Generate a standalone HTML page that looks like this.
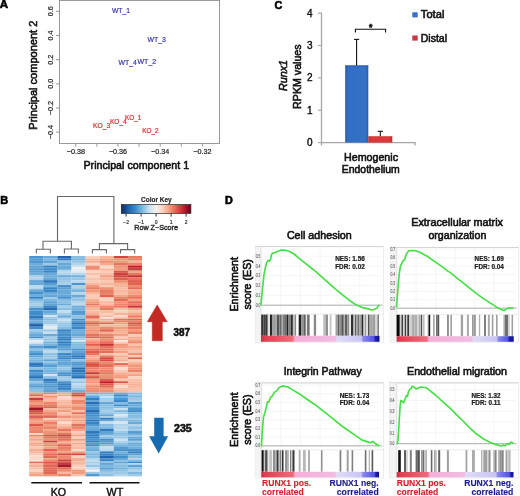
<!DOCTYPE html>
<html><head><meta charset="utf-8"><style>
html,body{margin:0;padding:0;background:#fff;overflow:hidden}
svg{display:block;font-family:"Liberation Sans", sans-serif;will-change:transform}
</style></head><body>
<svg width="520" height="496" viewBox="0 0 520 496">
<rect width="520" height="496" fill="#fff"/>
<text x="-0.3" y="8.4" font-size="11.5" fill="#000" stroke="#000" stroke-width="0.58" font-weight="bold">A</text>
<rect x="59.4" y="0.4" width="160.2" height="143" fill="none" stroke="#8a8a8a" stroke-width="0.9"/>
<line x1="56" y1="11.30" x2="59.4" y2="11.30" stroke="#8a8a8a" stroke-width="0.9"/>
<text x="53.0" y="11.3" font-size="7.2" fill="#222" stroke="#222" stroke-width="0.2" text-anchor="middle" transform="rotate(-90 53.0 11.3)">0.6</text>
<line x1="56" y1="35.48" x2="59.4" y2="35.48" stroke="#8a8a8a" stroke-width="0.9"/>
<text x="53.0" y="35.48" font-size="7.2" fill="#222" stroke="#222" stroke-width="0.2" text-anchor="middle" transform="rotate(-90 53.0 35.48)">0.4</text>
<line x1="56" y1="59.66" x2="59.4" y2="59.66" stroke="#8a8a8a" stroke-width="0.9"/>
<text x="53.0" y="59.66" font-size="7.2" fill="#222" stroke="#222" stroke-width="0.2" text-anchor="middle" transform="rotate(-90 53.0 59.66)">0.2</text>
<line x1="56" y1="83.84" x2="59.4" y2="83.84" stroke="#8a8a8a" stroke-width="0.9"/>
<text x="53.0" y="83.84" font-size="7.2" fill="#222" stroke="#222" stroke-width="0.2" text-anchor="middle" transform="rotate(-90 53.0 83.84)">0.0</text>
<line x1="56" y1="108.02" x2="59.4" y2="108.02" stroke="#8a8a8a" stroke-width="0.9"/>
<text x="53.0" y="108.02" font-size="7.2" fill="#222" stroke="#222" stroke-width="0.2" text-anchor="middle" transform="rotate(-90 53.0 108.02)">&#8722;0.2</text>
<line x1="56" y1="132.20" x2="59.4" y2="132.20" stroke="#8a8a8a" stroke-width="0.9"/>
<text x="53.0" y="132.2" font-size="7.2" fill="#222" stroke="#222" stroke-width="0.2" text-anchor="middle" transform="rotate(-90 53.0 132.2)">&#8722;0.4</text>
<line x1="75.80" y1="143.4" x2="75.80" y2="146.6" stroke="#8a8a8a" stroke-width="0.9"/>
<line x1="96.90" y1="143.4" x2="96.90" y2="146.6" stroke="#8a8a8a" stroke-width="0.9"/>
<line x1="118.00" y1="143.4" x2="118.00" y2="146.6" stroke="#8a8a8a" stroke-width="0.9"/>
<line x1="139.10" y1="143.4" x2="139.10" y2="146.6" stroke="#8a8a8a" stroke-width="0.9"/>
<line x1="160.20" y1="143.4" x2="160.20" y2="146.6" stroke="#8a8a8a" stroke-width="0.9"/>
<line x1="181.30" y1="143.4" x2="181.30" y2="146.6" stroke="#8a8a8a" stroke-width="0.9"/>
<line x1="202.40" y1="143.4" x2="202.40" y2="146.6" stroke="#8a8a8a" stroke-width="0.9"/>
<text x="75.8" y="153.9" font-size="7.2" fill="#222" stroke="#222" stroke-width="0.2" text-anchor="middle">&#8722;0.38</text>
<text x="118.0" y="153.9" font-size="7.2" fill="#222" stroke="#222" stroke-width="0.2" text-anchor="middle">&#8722;0.36</text>
<text x="160.2" y="153.9" font-size="7.2" fill="#222" stroke="#222" stroke-width="0.2" text-anchor="middle">&#8722;0.34</text>
<text x="202.4" y="153.9" font-size="7.2" fill="#222" stroke="#222" stroke-width="0.2" text-anchor="middle">&#8722;0.32</text>
<text x="83.5" y="169.0" font-size="10.85" fill="#111" stroke="#111" stroke-width="0.58" textLength="105.6" lengthAdjust="spacingAndGlyphs">Principal component 1</text>
<text x="36.9" y="129.7" font-size="11.2" fill="#111" stroke="#111" stroke-width="0.58" textLength="109.0" lengthAdjust="spacingAndGlyphs" transform="rotate(-90 36.9 129.7)">Principal component 2</text>
<text x="112" y="13.1" font-size="7.2" fill="#3a3aae" stroke="#3a3aae" stroke-width="0.22" textLength="18" lengthAdjust="spacingAndGlyphs">WT_1</text>
<text x="147.5" y="42.3" font-size="7.2" fill="#3a3aae" stroke="#3a3aae" stroke-width="0.22" textLength="18.4" lengthAdjust="spacingAndGlyphs">WT_3</text>
<text x="118.5" y="65.2" font-size="7.2" fill="#3a3aae" stroke="#3a3aae" stroke-width="0.22" textLength="18.4" lengthAdjust="spacingAndGlyphs">WT_4</text>
<text x="137.5" y="63.5" font-size="7.2" fill="#3a3aae" stroke="#3a3aae" stroke-width="0.22" textLength="18.7" lengthAdjust="spacingAndGlyphs">WT_2</text>
<text x="93" y="127.8" font-size="7.2" fill="#d23434" stroke="#d23434" stroke-width="0.22" textLength="17.4" lengthAdjust="spacingAndGlyphs">KO_3</text>
<text x="109.9" y="123.5" font-size="7.2" fill="#d23434" stroke="#d23434" stroke-width="0.22" textLength="16.9" lengthAdjust="spacingAndGlyphs">KO_4</text>
<text x="125" y="120.4" font-size="7.2" fill="#d23434" stroke="#d23434" stroke-width="0.22" textLength="16.2" lengthAdjust="spacingAndGlyphs">KO_1</text>
<text x="142.2" y="132.7" font-size="7.2" fill="#d23434" stroke="#d23434" stroke-width="0.22" textLength="16.3" lengthAdjust="spacingAndGlyphs">KO_2</text>
<text x="274.4" y="8.6" font-size="10.8" fill="#000" stroke="#000" stroke-width="0.58" font-weight="bold">C</text>
<line x1="321.5" y1="12.6" x2="321.5" y2="142.6" stroke="#a6a6a6" stroke-width="1.3"/>
<line x1="318" y1="13.10" x2="321.5" y2="13.10" stroke="#a6a6a6" stroke-width="1.1"/>
<text x="312.6" y="16.7" font-size="10" fill="#111" stroke="#111" stroke-width="0.4" text-anchor="end">4</text>
<line x1="318" y1="45.48" x2="321.5" y2="45.48" stroke="#a6a6a6" stroke-width="1.1"/>
<text x="312.6" y="49.08" font-size="10" fill="#111" stroke="#111" stroke-width="0.4" text-anchor="end">3</text>
<line x1="318" y1="77.86" x2="321.5" y2="77.86" stroke="#a6a6a6" stroke-width="1.1"/>
<text x="312.6" y="81.46" font-size="10" fill="#111" stroke="#111" stroke-width="0.4" text-anchor="end">2</text>
<line x1="318" y1="110.24" x2="321.5" y2="110.24" stroke="#a6a6a6" stroke-width="1.1"/>
<text x="312.6" y="113.84" font-size="10" fill="#111" stroke="#111" stroke-width="0.4" text-anchor="end">1</text>
<line x1="318" y1="142.62" x2="321.5" y2="142.62" stroke="#a6a6a6" stroke-width="1.1"/>
<text x="312.6" y="146.22" font-size="10" fill="#111" stroke="#111" stroke-width="0.4" text-anchor="end">0</text>
<polyline points="321.5,145.6 321.5,142.6 415,142.6 415,145.6" fill="none" stroke="#a6a6a6" stroke-width="1.3"/>
<defs><linearGradient id="bb" x1="0" x2="1" y1="0" y2="0"><stop offset="0" stop-color="#2a5aa4"/><stop offset="0.12" stop-color="#326fc4"/><stop offset="0.88" stop-color="#3472c6"/><stop offset="1" stop-color="#2a5aa4"/></linearGradient><linearGradient id="rb" x1="0" x2="1" y1="0" y2="0"><stop offset="0" stop-color="#c02c2e"/><stop offset="0.12" stop-color="#da3a3a"/><stop offset="0.88" stop-color="#da3a3a"/><stop offset="1" stop-color="#c02c2e"/></linearGradient></defs>
<rect x="345.2" y="65.5" width="23.1" height="77.1" fill="url(#bb)"/>
<line x1="345.2" y1="65.9" x2="368.3" y2="65.9" stroke="#2a58a0" stroke-width="0.8"/>
<rect x="368.3" y="136.2" width="24" height="6.4" fill="url(#rb)"/>
<polyline points="356.6,65.5 356.6,39.4" stroke="#111" stroke-width="1.1"/>
<line x1="354" y1="39.4" x2="359.2" y2="39.4" stroke="#111" stroke-width="1.1"/>
<line x1="380.3" y1="136.2" x2="380.3" y2="131.3" stroke="#111" stroke-width="1.1"/>
<line x1="377.7" y1="131.3" x2="382.9" y2="131.3" stroke="#111" stroke-width="1.1"/>
<polyline points="355.4,32.6 355.4,29.3 385.6,29.3 385.6,32.6" fill="none" stroke="#111" stroke-width="1.1"/>
<text x="370.6" y="29.6" font-size="8.5" fill="#111" stroke="#111" stroke-width="0.58" font-weight="bold" text-anchor="middle">*</text>
<rect x="412.3" y="12.3" width="5.4" height="5.1" fill="#3c6fc3"/>
<rect x="412.3" y="35.5" width="5.4" height="5.1" fill="#c8383f"/>
<text x="420.8" y="18.2" font-size="10.6" fill="#111" stroke="#111" stroke-width="0.58" textLength="23.6" lengthAdjust="spacingAndGlyphs">Total</text>
<text x="420.8" y="41.5" font-size="10.6" fill="#111" stroke="#111" stroke-width="0.58" textLength="26.2" lengthAdjust="spacingAndGlyphs">Distal</text>
<text x="371" y="160.8" font-size="10.5" fill="#111" stroke="#111" stroke-width="0.58" text-anchor="middle" textLength="54" lengthAdjust="spacingAndGlyphs">Hemogenic</text>
<text x="370.8" y="173" font-size="10.5" fill="#111" stroke="#111" stroke-width="0.58" text-anchor="middle" textLength="58" lengthAdjust="spacingAndGlyphs">Endothelium</text>
<text x="286.7" y="91" font-size="10.6" fill="#111" stroke="#111" stroke-width="0.58" font-style="italic" textLength="31" lengthAdjust="spacingAndGlyphs" transform="rotate(-90 286.7 91)">Runx1</text>
<text x="301.0" y="108.9" font-size="10.6" fill="#111" stroke="#111" stroke-width="0.58" textLength="64.5" lengthAdjust="spacingAndGlyphs" transform="rotate(-90 301.0 108.9)">RPKM values</text>
<text x="0.3" y="203.5" font-size="11" fill="#000" stroke="#000" stroke-width="0.58" font-weight="bold">B</text>
<polyline points="57.5,241.2 57.5,196.5 113.9,196.5 113.9,243.6" stroke="#686868" stroke-width="1.1" fill="none"/>
<polyline points="43,249.3 43,241.2 71.4,241.2 71.4,249.0" stroke="#686868" stroke-width="1.1" fill="none"/>
<polyline points="36.3,253.5 36.3,249.3 50.4,249.3 50.4,253.5" stroke="#686868" stroke-width="1.1" fill="none"/>
<polyline points="64.4,253.5 64.4,249.0 78.3,249.0 78.3,253.5" stroke="#686868" stroke-width="1.1" fill="none"/>
<polyline points="99.4,249.6 99.4,243.6 127.6,243.6 127.6,249.6" stroke="#686868" stroke-width="1.1" fill="none"/>
<polyline points="92.4,253.5 92.4,249.6 106.4,249.6 106.4,253.5" stroke="#686868" stroke-width="1.1" fill="none"/>
<polyline points="120.6,253.5 120.6,249.6 134.7,249.6 134.7,253.5" stroke="#686868" stroke-width="1.1" fill="none"/>
<defs><linearGradient id="ck" x1="0" x2="1" y1="0" y2="0"><stop offset="0.00" stop-color="#0a2a62"/><stop offset="0.10" stop-color="#1f5fa8"/><stop offset="0.20" stop-color="#3a88c8"/><stop offset="0.30" stop-color="#7cb8e0"/><stop offset="0.40" stop-color="#c8e0f0"/><stop offset="0.50" stop-color="#f5f2f0"/><stop offset="0.60" stop-color="#fbd0bc"/><stop offset="0.70" stop-color="#f29878"/><stop offset="0.80" stop-color="#dc5848"/><stop offset="0.90" stop-color="#b8202c"/><stop offset="1.00" stop-color="#62001c"/></linearGradient></defs>
<rect x="121.3" y="204.5" width="69.6" height="9" fill="url(#ck)" stroke="#2a2a2a" stroke-width="0.7"/>
<line x1="126.1" y1="213.4" x2="126.1" y2="216.6" stroke="#333" stroke-width="1"/>
<text x="126.1" y="224.0" font-size="5.0" fill="#222" stroke="#222" stroke-width="0.15" text-anchor="middle">&#8722;2</text>
<line x1="141.1" y1="213.4" x2="141.1" y2="216.6" stroke="#333" stroke-width="1"/>
<text x="141.1" y="224.0" font-size="5.0" fill="#222" stroke="#222" stroke-width="0.15" text-anchor="middle">&#8722;1</text>
<line x1="156.1" y1="213.4" x2="156.1" y2="216.6" stroke="#333" stroke-width="1"/>
<text x="156.1" y="224.0" font-size="5.0" fill="#222" stroke="#222" stroke-width="0.15" text-anchor="middle">0</text>
<line x1="171.1" y1="213.4" x2="171.1" y2="216.6" stroke="#333" stroke-width="1"/>
<text x="171.1" y="224.0" font-size="5.0" fill="#222" stroke="#222" stroke-width="0.15" text-anchor="middle">1</text>
<line x1="186.1" y1="213.4" x2="186.1" y2="216.6" stroke="#333" stroke-width="1"/>
<text x="186.1" y="224.0" font-size="5.0" fill="#222" stroke="#222" stroke-width="0.15" text-anchor="middle">2</text>
<text x="156.3" y="201.9" font-size="6.6" fill="#222" stroke="#222" stroke-width="0.15" font-weight="bold" text-anchor="middle" textLength="30.6" lengthAdjust="spacingAndGlyphs">Color Key</text>
<text x="156.1" y="230.2" font-size="7.2" fill="#222" stroke="#222" stroke-width="0.35" text-anchor="middle" textLength="43.8" lengthAdjust="spacingAndGlyphs">Row Z&#8722;Score</text>
<defs><filter id="hb" x="-0.05" y="-0.05" width="1.1" height="1.1"><feGaussianBlur stdDeviation="0.35"/></filter></defs>
<g filter="url(#hb)">
<rect x="29.20" y="256.00" width="14.15" height="2.40" fill="#4a94ce"/>
<rect x="43.30" y="256.00" width="14.15" height="2.40" fill="#66a8d8"/>
<rect x="57.40" y="256.00" width="14.15" height="2.40" fill="#2365ad"/>
<rect x="71.50" y="256.00" width="14.15" height="2.40" fill="#88bee2"/>
<rect x="85.60" y="256.00" width="14.15" height="2.40" fill="#fbd0bc"/>
<rect x="99.70" y="256.00" width="14.15" height="2.40" fill="#f7b59b"/>
<rect x="113.80" y="256.00" width="14.15" height="2.40" fill="#d0453f"/>
<rect x="127.90" y="256.00" width="14.15" height="2.40" fill="#e87a61"/>
<rect x="29.20" y="258.35" width="14.15" height="2.21" fill="#5098d0"/>
<rect x="43.30" y="258.35" width="14.15" height="2.21" fill="#79b6df"/>
<rect x="57.40" y="258.35" width="14.15" height="2.21" fill="#3078bc"/>
<rect x="71.50" y="258.35" width="14.15" height="2.21" fill="#77b5de"/>
<rect x="85.60" y="258.35" width="14.15" height="2.21" fill="#f7b79e"/>
<rect x="99.70" y="258.35" width="14.15" height="2.21" fill="#f4a486"/>
<rect x="113.80" y="258.35" width="14.15" height="2.21" fill="#f09475"/>
<rect x="127.90" y="258.35" width="14.15" height="2.21" fill="#e77961"/>
<rect x="29.20" y="260.51" width="14.15" height="2.40" fill="#4691cc"/>
<rect x="43.30" y="260.51" width="14.15" height="2.40" fill="#5ba0d4"/>
<rect x="57.40" y="260.51" width="14.15" height="2.40" fill="#90c2e4"/>
<rect x="71.50" y="260.51" width="14.15" height="2.40" fill="#95c5e5"/>
<rect x="85.60" y="260.51" width="14.15" height="2.40" fill="#f6af94"/>
<rect x="99.70" y="260.51" width="14.15" height="2.40" fill="#ef8f72"/>
<rect x="113.80" y="260.51" width="14.15" height="2.40" fill="#f29a7a"/>
<rect x="127.90" y="260.51" width="14.15" height="2.40" fill="#f6b399"/>
<rect x="29.20" y="262.86" width="14.15" height="2.75" fill="#6dadda"/>
<rect x="43.30" y="262.86" width="14.15" height="2.75" fill="#9cc9e7"/>
<rect x="57.40" y="262.86" width="14.15" height="2.75" fill="#65a7d8"/>
<rect x="71.50" y="262.86" width="14.15" height="2.75" fill="#b1d4eb"/>
<rect x="85.60" y="262.86" width="14.15" height="2.75" fill="#fbd0bc"/>
<rect x="99.70" y="262.86" width="14.15" height="2.75" fill="#f5aa8e"/>
<rect x="113.80" y="262.86" width="14.15" height="2.75" fill="#e6745d"/>
<rect x="127.90" y="262.86" width="14.15" height="2.75" fill="#eb8369"/>
<rect x="29.20" y="265.56" width="14.15" height="1.65" fill="#5ca1d4"/>
<rect x="43.30" y="265.56" width="14.15" height="1.65" fill="#3581c2"/>
<rect x="57.40" y="265.56" width="14.15" height="1.65" fill="#6babda"/>
<rect x="71.50" y="265.56" width="14.15" height="1.65" fill="#c6dff0"/>
<rect x="85.60" y="265.56" width="14.15" height="1.65" fill="#f09274"/>
<rect x="99.70" y="265.56" width="14.15" height="1.65" fill="#fad4c2"/>
<rect x="113.80" y="265.56" width="14.15" height="1.65" fill="#f09273"/>
<rect x="127.90" y="265.56" width="14.15" height="1.65" fill="#b8212c"/>
<rect x="29.20" y="267.16" width="14.15" height="1.76" fill="#5ca0d4"/>
<rect x="43.30" y="267.16" width="14.15" height="1.76" fill="#4590cc"/>
<rect x="57.40" y="267.16" width="14.15" height="1.76" fill="#5a9fd4"/>
<rect x="71.50" y="267.16" width="14.15" height="1.76" fill="#eff0f0"/>
<rect x="85.60" y="267.16" width="14.15" height="1.76" fill="#e97d64"/>
<rect x="99.70" y="267.16" width="14.15" height="1.76" fill="#fad4c2"/>
<rect x="113.80" y="267.16" width="14.15" height="1.76" fill="#f09273"/>
<rect x="127.90" y="267.16" width="14.15" height="1.76" fill="#c63537"/>
<rect x="29.20" y="268.87" width="14.15" height="1.83" fill="#569cd2"/>
<rect x="43.30" y="268.87" width="14.15" height="1.83" fill="#3f8bca"/>
<rect x="57.40" y="268.87" width="14.15" height="1.83" fill="#84bce2"/>
<rect x="71.50" y="268.87" width="14.15" height="1.83" fill="#e3ebf0"/>
<rect x="85.60" y="268.87" width="14.15" height="1.83" fill="#f4a68a"/>
<rect x="99.70" y="268.87" width="14.15" height="1.83" fill="#f6b196"/>
<rect x="113.80" y="268.87" width="14.15" height="1.83" fill="#f3a183"/>
<rect x="127.90" y="268.87" width="14.15" height="1.83" fill="#cd413d"/>
<rect x="29.20" y="270.65" width="14.15" height="2.18" fill="#5ca1d4"/>
<rect x="43.30" y="270.65" width="14.15" height="2.18" fill="#3b88c8"/>
<rect x="57.40" y="270.65" width="14.15" height="2.18" fill="#b8d8ed"/>
<rect x="71.50" y="270.65" width="14.15" height="2.18" fill="#dde8f0"/>
<rect x="85.60" y="270.65" width="14.15" height="2.18" fill="#fad6c5"/>
<rect x="99.70" y="270.65" width="14.15" height="2.18" fill="#facbb6"/>
<rect x="113.80" y="270.65" width="14.15" height="2.18" fill="#dc5748"/>
<rect x="127.90" y="270.65" width="14.15" height="2.18" fill="#f4a588"/>
<rect x="29.20" y="272.78" width="14.15" height="2.44" fill="#6bacda"/>
<rect x="43.30" y="272.78" width="14.15" height="2.44" fill="#68a9d9"/>
<rect x="57.40" y="272.78" width="14.15" height="2.44" fill="#b1d4eb"/>
<rect x="71.50" y="272.78" width="14.15" height="2.44" fill="#b7d7ec"/>
<rect x="85.60" y="272.78" width="14.15" height="2.44" fill="#f8c0a9"/>
<rect x="99.70" y="272.78" width="14.15" height="2.44" fill="#f8bda5"/>
<rect x="113.80" y="272.78" width="14.15" height="2.44" fill="#cd403c"/>
<rect x="127.90" y="272.78" width="14.15" height="2.44" fill="#e77860"/>
<rect x="29.20" y="275.18" width="14.15" height="2.31" fill="#a5cde9"/>
<rect x="43.30" y="275.18" width="14.15" height="2.31" fill="#6aabda"/>
<rect x="57.40" y="275.18" width="14.15" height="2.31" fill="#68a9d9"/>
<rect x="71.50" y="275.18" width="14.15" height="2.31" fill="#72b0dc"/>
<rect x="85.60" y="275.18" width="14.15" height="2.31" fill="#fbd1be"/>
<rect x="99.70" y="275.18" width="14.15" height="2.31" fill="#f3a082"/>
<rect x="113.80" y="275.18" width="14.15" height="2.31" fill="#d34a41"/>
<rect x="127.90" y="275.18" width="14.15" height="2.31" fill="#c43336"/>
<rect x="29.20" y="277.44" width="14.15" height="2.70" fill="#b0d3eb"/>
<rect x="43.30" y="277.44" width="14.15" height="2.70" fill="#64a6d7"/>
<rect x="57.40" y="277.44" width="14.15" height="2.70" fill="#92c3e5"/>
<rect x="71.50" y="277.44" width="14.15" height="2.70" fill="#98c7e6"/>
<rect x="85.60" y="277.44" width="14.15" height="2.70" fill="#f9c2ac"/>
<rect x="99.70" y="277.44" width="14.15" height="2.70" fill="#f7b79d"/>
<rect x="113.80" y="277.44" width="14.15" height="2.70" fill="#df604e"/>
<rect x="127.90" y="277.44" width="14.15" height="2.70" fill="#e6755e"/>
<rect x="29.20" y="280.09" width="14.15" height="2.81" fill="#65a7d8"/>
<rect x="43.30" y="280.09" width="14.15" height="2.81" fill="#317bbe"/>
<rect x="57.40" y="280.09" width="14.15" height="2.81" fill="#9ecae7"/>
<rect x="71.50" y="280.09" width="14.15" height="2.81" fill="#bddaee"/>
<rect x="85.60" y="280.09" width="14.15" height="2.81" fill="#faccb7"/>
<rect x="99.70" y="280.09" width="14.15" height="2.81" fill="#fac7b1"/>
<rect x="113.80" y="280.09" width="14.15" height="2.81" fill="#ef8e70"/>
<rect x="127.90" y="280.09" width="14.15" height="2.81" fill="#dd5c4b"/>
<rect x="29.20" y="282.85" width="14.15" height="2.27" fill="#68a9d9"/>
<rect x="43.30" y="282.85" width="14.15" height="2.27" fill="#579dd2"/>
<rect x="57.40" y="282.85" width="14.15" height="2.27" fill="#abd1ea"/>
<rect x="71.50" y="282.85" width="14.15" height="2.27" fill="#4e96cf"/>
<rect x="85.60" y="282.85" width="14.15" height="2.27" fill="#f7b89f"/>
<rect x="99.70" y="282.85" width="14.15" height="2.27" fill="#f7b59c"/>
<rect x="113.80" y="282.85" width="14.15" height="2.27" fill="#f6b196"/>
<rect x="127.90" y="282.85" width="14.15" height="2.27" fill="#e06350"/>
<rect x="29.20" y="285.07" width="14.15" height="2.15" fill="#bbd9ed"/>
<rect x="43.30" y="285.07" width="14.15" height="2.15" fill="#74b2dd"/>
<rect x="57.40" y="285.07" width="14.15" height="2.15" fill="#448fcb"/>
<rect x="71.50" y="285.07" width="14.15" height="2.15" fill="#add2ea"/>
<rect x="85.60" y="285.07" width="14.15" height="2.15" fill="#f29878"/>
<rect x="99.70" y="285.07" width="14.15" height="2.15" fill="#fac9b4"/>
<rect x="113.80" y="285.07" width="14.15" height="2.15" fill="#f6b398"/>
<rect x="127.90" y="285.07" width="14.15" height="2.15" fill="#ed896d"/>
<rect x="29.20" y="287.18" width="14.15" height="2.09" fill="#b6d7ec"/>
<rect x="43.30" y="287.18" width="14.15" height="2.09" fill="#3987c7"/>
<rect x="57.40" y="287.18" width="14.15" height="2.09" fill="#589ed3"/>
<rect x="71.50" y="287.18" width="14.15" height="2.09" fill="#a4cde8"/>
<rect x="85.60" y="287.18" width="14.15" height="2.09" fill="#e97d63"/>
<rect x="99.70" y="287.18" width="14.15" height="2.09" fill="#ef9072"/>
<rect x="113.80" y="287.18" width="14.15" height="2.09" fill="#f8bda5"/>
<rect x="127.90" y="287.18" width="14.15" height="2.09" fill="#e46e59"/>
<rect x="29.20" y="289.21" width="14.15" height="2.83" fill="#6cacda"/>
<rect x="43.30" y="289.21" width="14.15" height="2.83" fill="#3987c7"/>
<rect x="57.40" y="289.21" width="14.15" height="2.83" fill="#69aad9"/>
<rect x="71.50" y="289.21" width="14.15" height="2.83" fill="#76b4de"/>
<rect x="85.60" y="289.21" width="14.15" height="2.83" fill="#f2997a"/>
<rect x="99.70" y="289.21" width="14.15" height="2.83" fill="#e87b63"/>
<rect x="113.80" y="289.21" width="14.15" height="2.83" fill="#f7b89e"/>
<rect x="127.90" y="289.21" width="14.15" height="2.83" fill="#f5aa8d"/>
<rect x="29.20" y="291.99" width="14.15" height="2.76" fill="#4691cc"/>
<rect x="43.30" y="291.99" width="14.15" height="2.76" fill="#68a9d9"/>
<rect x="57.40" y="291.99" width="14.15" height="2.76" fill="#69aad9"/>
<rect x="71.50" y="291.99" width="14.15" height="2.76" fill="#bbd9ed"/>
<rect x="85.60" y="291.99" width="14.15" height="2.76" fill="#f7b69c"/>
<rect x="99.70" y="291.99" width="14.15" height="2.76" fill="#ea8066"/>
<rect x="113.80" y="291.99" width="14.15" height="2.76" fill="#f8bfa7"/>
<rect x="127.90" y="291.99" width="14.15" height="2.76" fill="#f4a386"/>
<rect x="29.20" y="294.70" width="14.15" height="2.41" fill="#6eaedb"/>
<rect x="43.30" y="294.70" width="14.15" height="2.41" fill="#62a5d7"/>
<rect x="57.40" y="294.70" width="14.15" height="2.41" fill="#65a7d8"/>
<rect x="71.50" y="294.70" width="14.15" height="2.41" fill="#69aad9"/>
<rect x="85.60" y="294.70" width="14.15" height="2.41" fill="#faccb7"/>
<rect x="99.70" y="294.70" width="14.15" height="2.41" fill="#df6250"/>
<rect x="113.80" y="294.70" width="14.15" height="2.41" fill="#f4a689"/>
<rect x="127.90" y="294.70" width="14.15" height="2.41" fill="#ed8b6e"/>
<rect x="29.20" y="297.05" width="14.15" height="1.78" fill="#337dc0"/>
<rect x="43.30" y="297.05" width="14.15" height="1.78" fill="#9fcae7"/>
<rect x="57.40" y="297.05" width="14.15" height="1.78" fill="#418dca"/>
<rect x="71.50" y="297.05" width="14.15" height="1.78" fill="#91c3e4"/>
<rect x="85.60" y="297.05" width="14.15" height="1.78" fill="#fac7b1"/>
<rect x="99.70" y="297.05" width="14.15" height="1.78" fill="#f9c3ac"/>
<rect x="113.80" y="297.05" width="14.15" height="1.78" fill="#e97e64"/>
<rect x="127.90" y="297.05" width="14.15" height="1.78" fill="#e36c57"/>
<rect x="29.20" y="298.79" width="14.15" height="2.41" fill="#7db9e0"/>
<rect x="43.30" y="298.79" width="14.15" height="2.41" fill="#7cb8e0"/>
<rect x="57.40" y="298.79" width="14.15" height="2.41" fill="#85bde2"/>
<rect x="71.50" y="298.79" width="14.15" height="2.41" fill="#93c4e5"/>
<rect x="85.60" y="298.79" width="14.15" height="2.41" fill="#f6b297"/>
<rect x="99.70" y="298.79" width="14.15" height="2.41" fill="#fad4c2"/>
<rect x="113.80" y="298.79" width="14.15" height="2.41" fill="#e36c57"/>
<rect x="127.90" y="298.79" width="14.15" height="2.41" fill="#f4a284"/>
<rect x="29.20" y="301.15" width="14.15" height="2.61" fill="#97c6e6"/>
<rect x="43.30" y="301.15" width="14.15" height="2.61" fill="#60a4d6"/>
<rect x="57.40" y="301.15" width="14.15" height="2.61" fill="#86bde2"/>
<rect x="71.50" y="301.15" width="14.15" height="2.61" fill="#afd3eb"/>
<rect x="85.60" y="301.15" width="14.15" height="2.61" fill="#f39d7e"/>
<rect x="99.70" y="301.15" width="14.15" height="2.61" fill="#f8baa2"/>
<rect x="113.80" y="301.15" width="14.15" height="2.61" fill="#f09375"/>
<rect x="127.90" y="301.15" width="14.15" height="2.61" fill="#e4715a"/>
<rect x="29.20" y="303.71" width="14.15" height="1.88" fill="#a6cee9"/>
<rect x="43.30" y="303.71" width="14.15" height="1.88" fill="#5da1d5"/>
<rect x="57.40" y="303.71" width="14.15" height="1.88" fill="#69aad9"/>
<rect x="71.50" y="303.71" width="14.15" height="1.88" fill="#bad9ed"/>
<rect x="85.60" y="303.71" width="14.15" height="1.88" fill="#e7775f"/>
<rect x="99.70" y="303.71" width="14.15" height="1.88" fill="#f7baa1"/>
<rect x="113.80" y="303.71" width="14.15" height="1.88" fill="#eb8469"/>
<rect x="127.90" y="303.71" width="14.15" height="1.88" fill="#e97d63"/>
<rect x="29.20" y="305.54" width="14.15" height="2.30" fill="#8dc1e4"/>
<rect x="43.30" y="305.54" width="14.15" height="2.30" fill="#3783c4"/>
<rect x="57.40" y="305.54" width="14.15" height="2.30" fill="#a2cce8"/>
<rect x="71.50" y="305.54" width="14.15" height="2.30" fill="#6eaddb"/>
<rect x="85.60" y="305.54" width="14.15" height="2.30" fill="#f3a081"/>
<rect x="99.70" y="305.54" width="14.15" height="2.30" fill="#ec856a"/>
<rect x="113.80" y="305.54" width="14.15" height="2.30" fill="#e87a61"/>
<rect x="127.90" y="305.54" width="14.15" height="2.30" fill="#c73737"/>
<rect x="29.20" y="307.78" width="14.15" height="2.67" fill="#4a94ce"/>
<rect x="43.30" y="307.78" width="14.15" height="2.67" fill="#276cb2"/>
<rect x="57.40" y="307.78" width="14.15" height="2.67" fill="#89bfe3"/>
<rect x="71.50" y="307.78" width="14.15" height="2.67" fill="#75b3dd"/>
<rect x="85.60" y="307.78" width="14.15" height="2.67" fill="#f7b79d"/>
<rect x="99.70" y="307.78" width="14.15" height="2.67" fill="#e87b62"/>
<rect x="113.80" y="307.78" width="14.15" height="2.67" fill="#f8c0a9"/>
<rect x="127.90" y="307.78" width="14.15" height="2.67" fill="#f5a88c"/>
<rect x="29.20" y="310.41" width="14.15" height="2.61" fill="#428ecb"/>
<rect x="43.30" y="310.41" width="14.15" height="2.61" fill="#66a8d8"/>
<rect x="57.40" y="310.41" width="14.15" height="2.61" fill="#c4deef"/>
<rect x="71.50" y="310.41" width="14.15" height="2.61" fill="#539ad1"/>
<rect x="85.60" y="310.41" width="14.15" height="2.61" fill="#f8bda5"/>
<rect x="99.70" y="310.41" width="14.15" height="2.61" fill="#f8bba2"/>
<rect x="113.80" y="310.41" width="14.15" height="2.61" fill="#fbd0bc"/>
<rect x="127.90" y="310.41" width="14.15" height="2.61" fill="#f8c0a9"/>
<rect x="29.20" y="312.96" width="14.15" height="2.44" fill="#3f8cca"/>
<rect x="43.30" y="312.96" width="14.15" height="2.44" fill="#7bb7e0"/>
<rect x="57.40" y="312.96" width="14.15" height="2.44" fill="#9fcae7"/>
<rect x="71.50" y="312.96" width="14.15" height="2.44" fill="#5a9fd3"/>
<rect x="85.60" y="312.96" width="14.15" height="2.44" fill="#f6af94"/>
<rect x="99.70" y="312.96" width="14.15" height="2.44" fill="#fbceb9"/>
<rect x="113.80" y="312.96" width="14.15" height="2.44" fill="#f6b196"/>
<rect x="127.90" y="312.96" width="14.15" height="2.44" fill="#f5a98d"/>
<rect x="29.20" y="315.36" width="14.15" height="1.68" fill="#337dbf"/>
<rect x="43.30" y="315.36" width="14.15" height="1.68" fill="#d7e6f0"/>
<rect x="57.40" y="315.36" width="14.15" height="1.68" fill="#69aad9"/>
<rect x="71.50" y="315.36" width="14.15" height="1.68" fill="#8cc0e3"/>
<rect x="85.60" y="315.36" width="14.15" height="1.68" fill="#e36e58"/>
<rect x="99.70" y="315.36" width="14.15" height="1.68" fill="#f7b79d"/>
<rect x="113.80" y="315.36" width="14.15" height="1.68" fill="#fad8c8"/>
<rect x="127.90" y="315.36" width="14.15" height="1.68" fill="#e77961"/>
<rect x="29.20" y="316.99" width="14.15" height="1.77" fill="#2d75b9"/>
<rect x="43.30" y="316.99" width="14.15" height="1.77" fill="#9bc8e7"/>
<rect x="57.40" y="316.99" width="14.15" height="1.77" fill="#8ec1e4"/>
<rect x="71.50" y="316.99" width="14.15" height="1.77" fill="#95c5e5"/>
<rect x="85.60" y="316.99" width="14.15" height="1.77" fill="#e36c57"/>
<rect x="99.70" y="316.99" width="14.15" height="1.77" fill="#f8e4da"/>
<rect x="113.80" y="316.99" width="14.15" height="1.77" fill="#fac9b3"/>
<rect x="127.90" y="316.99" width="14.15" height="1.77" fill="#f4a587"/>
<rect x="29.20" y="318.71" width="14.15" height="1.95" fill="#599ed3"/>
<rect x="43.30" y="318.71" width="14.15" height="1.95" fill="#85bde2"/>
<rect x="57.40" y="318.71" width="14.15" height="1.95" fill="#c8e0f0"/>
<rect x="71.50" y="318.71" width="14.15" height="1.95" fill="#428ecb"/>
<rect x="85.60" y="318.71" width="14.15" height="1.95" fill="#f6b49a"/>
<rect x="99.70" y="318.71" width="14.15" height="1.95" fill="#f5ae92"/>
<rect x="113.80" y="318.71" width="14.15" height="1.95" fill="#e5725b"/>
<rect x="127.90" y="318.71" width="14.15" height="1.95" fill="#e16653"/>
<rect x="29.20" y="320.61" width="14.15" height="1.81" fill="#6cadda"/>
<rect x="43.30" y="320.61" width="14.15" height="1.81" fill="#99c7e6"/>
<rect x="57.40" y="320.61" width="14.15" height="1.81" fill="#b5d6ec"/>
<rect x="71.50" y="320.61" width="14.15" height="1.81" fill="#5299d1"/>
<rect x="85.60" y="320.61" width="14.15" height="1.81" fill="#ee8e70"/>
<rect x="99.70" y="320.61" width="14.15" height="1.81" fill="#f6b095"/>
<rect x="113.80" y="320.61" width="14.15" height="1.81" fill="#eb856a"/>
<rect x="127.90" y="320.61" width="14.15" height="1.81" fill="#ea8066"/>
<rect x="29.20" y="322.36" width="14.15" height="1.87" fill="#4791cd"/>
<rect x="43.30" y="322.36" width="14.15" height="1.87" fill="#93c4e5"/>
<rect x="57.40" y="322.36" width="14.15" height="1.87" fill="#98c7e6"/>
<rect x="71.50" y="322.36" width="14.15" height="1.87" fill="#2c73b7"/>
<rect x="85.60" y="322.36" width="14.15" height="1.87" fill="#df604e"/>
<rect x="99.70" y="322.36" width="14.15" height="1.87" fill="#e26854"/>
<rect x="113.80" y="322.36" width="14.15" height="1.87" fill="#f3a183"/>
<rect x="127.90" y="322.36" width="14.15" height="1.87" fill="#da5446"/>
<rect x="29.20" y="324.19" width="14.15" height="2.46" fill="#1c589f"/>
<rect x="43.30" y="324.19" width="14.15" height="2.46" fill="#cae1f0"/>
<rect x="57.40" y="324.19" width="14.15" height="2.46" fill="#96c6e5"/>
<rect x="71.50" y="324.19" width="14.15" height="2.46" fill="#438fcb"/>
<rect x="85.60" y="324.19" width="14.15" height="2.46" fill="#ee8b6f"/>
<rect x="99.70" y="324.19" width="14.15" height="2.46" fill="#f8bda5"/>
<rect x="113.80" y="324.19" width="14.15" height="2.46" fill="#f8bba2"/>
<rect x="127.90" y="324.19" width="14.15" height="2.46" fill="#e4705a"/>
<rect x="29.20" y="326.60" width="14.15" height="2.73" fill="#418dca"/>
<rect x="43.30" y="326.60" width="14.15" height="2.73" fill="#e5ecf0"/>
<rect x="57.40" y="326.60" width="14.15" height="2.73" fill="#84bce2"/>
<rect x="71.50" y="326.60" width="14.15" height="2.73" fill="#3885c5"/>
<rect x="85.60" y="326.60" width="14.15" height="2.73" fill="#f3a182"/>
<rect x="99.70" y="326.60" width="14.15" height="2.73" fill="#ee8b6e"/>
<rect x="113.80" y="326.60" width="14.15" height="2.73" fill="#f39d7e"/>
<rect x="127.90" y="326.60" width="14.15" height="2.73" fill="#e77860"/>
<rect x="29.20" y="329.27" width="14.15" height="2.58" fill="#9cc9e7"/>
<rect x="43.30" y="329.27" width="14.15" height="2.58" fill="#a0cbe8"/>
<rect x="57.40" y="329.27" width="14.15" height="2.58" fill="#3a87c7"/>
<rect x="71.50" y="329.27" width="14.15" height="2.58" fill="#68a9d9"/>
<rect x="85.60" y="329.27" width="14.15" height="2.58" fill="#f09374"/>
<rect x="99.70" y="329.27" width="14.15" height="2.58" fill="#e16653"/>
<rect x="113.80" y="329.27" width="14.15" height="2.58" fill="#f5a88b"/>
<rect x="127.90" y="329.27" width="14.15" height="2.58" fill="#f19676"/>
<rect x="29.20" y="331.81" width="14.15" height="2.15" fill="#81bbe1"/>
<rect x="43.30" y="331.81" width="14.15" height="2.15" fill="#cee2f0"/>
<rect x="57.40" y="331.81" width="14.15" height="2.15" fill="#5198d0"/>
<rect x="71.50" y="331.81" width="14.15" height="2.15" fill="#70afdc"/>
<rect x="85.60" y="331.81" width="14.15" height="2.15" fill="#f39e7f"/>
<rect x="99.70" y="331.81" width="14.15" height="2.15" fill="#f6b298"/>
<rect x="113.80" y="331.81" width="14.15" height="2.15" fill="#f7b89f"/>
<rect x="127.90" y="331.81" width="14.15" height="2.15" fill="#e87a61"/>
<rect x="29.20" y="333.91" width="14.15" height="2.75" fill="#67a9d8"/>
<rect x="43.30" y="333.91" width="14.15" height="2.75" fill="#67a9d8"/>
<rect x="57.40" y="333.91" width="14.15" height="2.75" fill="#448fcc"/>
<rect x="71.50" y="333.91" width="14.15" height="2.75" fill="#63a6d7"/>
<rect x="85.60" y="333.91" width="14.15" height="2.75" fill="#e5725c"/>
<rect x="99.70" y="333.91" width="14.15" height="2.75" fill="#eb856a"/>
<rect x="113.80" y="333.91" width="14.15" height="2.75" fill="#f39f80"/>
<rect x="127.90" y="333.91" width="14.15" height="2.75" fill="#facbb6"/>
<rect x="29.20" y="336.61" width="14.15" height="1.80" fill="#438fcb"/>
<rect x="43.30" y="336.61" width="14.15" height="1.80" fill="#a3cce8"/>
<rect x="57.40" y="336.61" width="14.15" height="1.80" fill="#3986c7"/>
<rect x="71.50" y="336.61" width="14.15" height="1.80" fill="#82bbe1"/>
<rect x="85.60" y="336.61" width="14.15" height="1.80" fill="#e16552"/>
<rect x="99.70" y="336.61" width="14.15" height="1.80" fill="#e36b56"/>
<rect x="113.80" y="336.61" width="14.15" height="1.80" fill="#fbd0bd"/>
<rect x="127.90" y="336.61" width="14.15" height="1.80" fill="#f5aa8e"/>
<rect x="29.20" y="338.36" width="14.15" height="1.91" fill="#b9d8ed"/>
<rect x="43.30" y="338.36" width="14.15" height="1.91" fill="#91c3e4"/>
<rect x="57.40" y="338.36" width="14.15" height="1.91" fill="#2f78bc"/>
<rect x="71.50" y="338.36" width="14.15" height="1.91" fill="#a4cde8"/>
<rect x="85.60" y="338.36" width="14.15" height="1.91" fill="#f7b69c"/>
<rect x="99.70" y="338.36" width="14.15" height="1.91" fill="#ee8c6f"/>
<rect x="113.80" y="338.36" width="14.15" height="1.91" fill="#f6b095"/>
<rect x="127.90" y="338.36" width="14.15" height="1.91" fill="#f5ad91"/>
<rect x="29.20" y="340.22" width="14.15" height="1.72" fill="#e5ecf0"/>
<rect x="43.30" y="340.22" width="14.15" height="1.72" fill="#a1cce8"/>
<rect x="57.40" y="340.22" width="14.15" height="1.72" fill="#5299d1"/>
<rect x="71.50" y="340.22" width="14.15" height="1.72" fill="#d5e5f0"/>
<rect x="85.60" y="340.22" width="14.15" height="1.72" fill="#f29a7a"/>
<rect x="99.70" y="340.22" width="14.15" height="1.72" fill="#e97d64"/>
<rect x="113.80" y="340.22" width="14.15" height="1.72" fill="#f7e7df"/>
<rect x="127.90" y="340.22" width="14.15" height="1.72" fill="#f09374"/>
<rect x="29.20" y="341.89" width="14.15" height="1.80" fill="#d9e7f0"/>
<rect x="43.30" y="341.89" width="14.15" height="1.80" fill="#77b4de"/>
<rect x="57.40" y="341.89" width="14.15" height="1.80" fill="#327cbe"/>
<rect x="71.50" y="341.89" width="14.15" height="1.80" fill="#86bde2"/>
<rect x="85.60" y="341.89" width="14.15" height="1.80" fill="#ee8b6e"/>
<rect x="99.70" y="341.89" width="14.15" height="1.80" fill="#e5715b"/>
<rect x="113.80" y="341.89" width="14.15" height="1.80" fill="#faccb7"/>
<rect x="127.90" y="341.89" width="14.15" height="1.80" fill="#ee8b6e"/>
<rect x="29.20" y="343.64" width="14.15" height="2.27" fill="#97c6e6"/>
<rect x="43.30" y="343.64" width="14.15" height="2.27" fill="#75b3dd"/>
<rect x="57.40" y="343.64" width="14.15" height="2.27" fill="#3e8bca"/>
<rect x="71.50" y="343.64" width="14.15" height="2.27" fill="#7eb9e0"/>
<rect x="85.60" y="343.64" width="14.15" height="2.27" fill="#dd5c4b"/>
<rect x="99.70" y="343.64" width="14.15" height="2.27" fill="#c53536"/>
<rect x="113.80" y="343.64" width="14.15" height="2.27" fill="#f09274"/>
<rect x="127.90" y="343.64" width="14.15" height="2.27" fill="#f9c1aa"/>
<rect x="29.20" y="345.86" width="14.15" height="2.83" fill="#589ed3"/>
<rect x="43.30" y="345.86" width="14.15" height="2.83" fill="#428ecb"/>
<rect x="57.40" y="345.86" width="14.15" height="2.83" fill="#5ba0d4"/>
<rect x="71.50" y="345.86" width="14.15" height="2.83" fill="#85bde2"/>
<rect x="85.60" y="345.86" width="14.15" height="2.83" fill="#f29979"/>
<rect x="99.70" y="345.86" width="14.15" height="2.83" fill="#e6755e"/>
<rect x="113.80" y="345.86" width="14.15" height="2.83" fill="#f39e80"/>
<rect x="127.90" y="345.86" width="14.15" height="2.83" fill="#f4a78a"/>
<rect x="29.20" y="348.63" width="14.15" height="2.03" fill="#89bfe3"/>
<rect x="43.30" y="348.63" width="14.15" height="2.03" fill="#a0cbe8"/>
<rect x="57.40" y="348.63" width="14.15" height="2.03" fill="#569cd2"/>
<rect x="71.50" y="348.63" width="14.15" height="2.03" fill="#4a93ce"/>
<rect x="85.60" y="348.63" width="14.15" height="2.03" fill="#e36d57"/>
<rect x="99.70" y="348.63" width="14.15" height="2.03" fill="#e4705a"/>
<rect x="113.80" y="348.63" width="14.15" height="2.03" fill="#f6b399"/>
<rect x="127.90" y="348.63" width="14.15" height="2.03" fill="#f6b399"/>
<rect x="29.20" y="350.61" width="14.15" height="2.50" fill="#63a6d7"/>
<rect x="43.30" y="350.61" width="14.15" height="2.50" fill="#bedbee"/>
<rect x="57.40" y="350.61" width="14.15" height="2.50" fill="#93c4e5"/>
<rect x="71.50" y="350.61" width="14.15" height="2.50" fill="#5fa3d6"/>
<rect x="85.60" y="350.61" width="14.15" height="2.50" fill="#dd5b4b"/>
<rect x="99.70" y="350.61" width="14.15" height="2.50" fill="#e46f59"/>
<rect x="113.80" y="350.61" width="14.15" height="2.50" fill="#f39f80"/>
<rect x="127.90" y="350.61" width="14.15" height="2.50" fill="#f8bfa8"/>
<rect x="29.20" y="353.06" width="14.15" height="2.37" fill="#418dcb"/>
<rect x="43.30" y="353.06" width="14.15" height="2.37" fill="#89bfe3"/>
<rect x="57.40" y="353.06" width="14.15" height="2.37" fill="#3b89c8"/>
<rect x="71.50" y="353.06" width="14.15" height="2.37" fill="#4892cd"/>
<rect x="85.60" y="353.06" width="14.15" height="2.37" fill="#e6765e"/>
<rect x="99.70" y="353.06" width="14.15" height="2.37" fill="#f9c2ac"/>
<rect x="113.80" y="353.06" width="14.15" height="2.37" fill="#facbb6"/>
<rect x="127.90" y="353.06" width="14.15" height="2.37" fill="#ef8f71"/>
<rect x="29.20" y="355.38" width="14.15" height="1.99" fill="#62a5d7"/>
<rect x="43.30" y="355.38" width="14.15" height="1.99" fill="#91c3e4"/>
<rect x="57.40" y="355.38" width="14.15" height="1.99" fill="#4792cd"/>
<rect x="71.50" y="355.38" width="14.15" height="1.99" fill="#2d75b9"/>
<rect x="85.60" y="355.38" width="14.15" height="1.99" fill="#f5ad92"/>
<rect x="99.70" y="355.38" width="14.15" height="1.99" fill="#e87c63"/>
<rect x="113.80" y="355.38" width="14.15" height="1.99" fill="#f5aa8e"/>
<rect x="127.90" y="355.38" width="14.15" height="1.99" fill="#fac7b1"/>
<rect x="29.20" y="357.32" width="14.15" height="2.05" fill="#81bbe1"/>
<rect x="43.30" y="357.32" width="14.15" height="2.05" fill="#9cc9e7"/>
<rect x="57.40" y="357.32" width="14.15" height="2.05" fill="#3885c5"/>
<rect x="71.50" y="357.32" width="14.15" height="2.05" fill="#3986c7"/>
<rect x="85.60" y="357.32" width="14.15" height="2.05" fill="#f6b298"/>
<rect x="99.70" y="357.32" width="14.15" height="2.05" fill="#d34a41"/>
<rect x="113.80" y="357.32" width="14.15" height="2.05" fill="#f8bba2"/>
<rect x="127.90" y="357.32" width="14.15" height="2.05" fill="#e06451"/>
<rect x="29.20" y="359.32" width="14.15" height="2.21" fill="#73b2dd"/>
<rect x="43.30" y="359.32" width="14.15" height="2.21" fill="#60a4d6"/>
<rect x="57.40" y="359.32" width="14.15" height="2.21" fill="#62a5d7"/>
<rect x="71.50" y="359.32" width="14.15" height="2.21" fill="#8fc2e4"/>
<rect x="85.60" y="359.32" width="14.15" height="2.21" fill="#f09173"/>
<rect x="99.70" y="359.32" width="14.15" height="2.21" fill="#d44c42"/>
<rect x="113.80" y="359.32" width="14.15" height="2.21" fill="#f5ad92"/>
<rect x="127.90" y="359.32" width="14.15" height="2.21" fill="#fbd1be"/>
<rect x="29.20" y="361.48" width="14.15" height="1.70" fill="#60a4d6"/>
<rect x="43.30" y="361.48" width="14.15" height="1.70" fill="#96c6e6"/>
<rect x="57.40" y="361.48" width="14.15" height="1.70" fill="#5da2d5"/>
<rect x="71.50" y="361.48" width="14.15" height="1.70" fill="#549bd2"/>
<rect x="85.60" y="361.48" width="14.15" height="1.70" fill="#e6745d"/>
<rect x="99.70" y="361.48" width="14.15" height="1.70" fill="#ed8a6d"/>
<rect x="113.80" y="361.48" width="14.15" height="1.70" fill="#fad5c4"/>
<rect x="127.90" y="361.48" width="14.15" height="1.70" fill="#f7b89e"/>
<rect x="29.20" y="363.13" width="14.15" height="1.89" fill="#296fb4"/>
<rect x="43.30" y="363.13" width="14.15" height="1.89" fill="#6eaedb"/>
<rect x="57.40" y="363.13" width="14.15" height="1.89" fill="#5a9fd4"/>
<rect x="71.50" y="363.13" width="14.15" height="1.89" fill="#5098d0"/>
<rect x="85.60" y="363.13" width="14.15" height="1.89" fill="#d85245"/>
<rect x="99.70" y="363.13" width="14.15" height="1.89" fill="#e87b62"/>
<rect x="113.80" y="363.13" width="14.15" height="1.89" fill="#e16753"/>
<rect x="127.90" y="363.13" width="14.15" height="1.89" fill="#f5a98d"/>
<rect x="29.20" y="364.96" width="14.15" height="2.46" fill="#3a88c8"/>
<rect x="43.30" y="364.96" width="14.15" height="2.46" fill="#579dd2"/>
<rect x="57.40" y="364.96" width="14.15" height="2.46" fill="#81bbe1"/>
<rect x="71.50" y="364.96" width="14.15" height="2.46" fill="#69aad9"/>
<rect x="85.60" y="364.96" width="14.15" height="2.46" fill="#dc5949"/>
<rect x="99.70" y="364.96" width="14.15" height="2.46" fill="#e36c57"/>
<rect x="113.80" y="364.96" width="14.15" height="2.46" fill="#f6b197"/>
<rect x="127.90" y="364.96" width="14.15" height="2.46" fill="#f29777"/>
<rect x="29.20" y="367.38" width="14.15" height="2.25" fill="#8ec2e4"/>
<rect x="43.30" y="367.38" width="14.15" height="2.25" fill="#78b5df"/>
<rect x="57.40" y="367.38" width="14.15" height="2.25" fill="#97c6e6"/>
<rect x="71.50" y="367.38" width="14.15" height="2.25" fill="#276bb1"/>
<rect x="85.60" y="367.38" width="14.15" height="2.25" fill="#ea8066"/>
<rect x="99.70" y="367.38" width="14.15" height="2.25" fill="#ee8c6f"/>
<rect x="113.80" y="367.38" width="14.15" height="2.25" fill="#f9ddd0"/>
<rect x="127.90" y="367.38" width="14.15" height="2.25" fill="#f19676"/>
<rect x="29.20" y="369.58" width="14.15" height="2.68" fill="#3f8bca"/>
<rect x="43.30" y="369.58" width="14.15" height="2.68" fill="#72b1dd"/>
<rect x="57.40" y="369.58" width="14.15" height="2.68" fill="#7db9e0"/>
<rect x="71.50" y="369.58" width="14.15" height="2.68" fill="#2e76ba"/>
<rect x="85.60" y="369.58" width="14.15" height="2.68" fill="#ed896d"/>
<rect x="99.70" y="369.58" width="14.15" height="2.68" fill="#eb8369"/>
<rect x="113.80" y="369.58" width="14.15" height="2.68" fill="#fac9b4"/>
<rect x="127.90" y="369.58" width="14.15" height="2.68" fill="#eb8368"/>
<rect x="29.20" y="372.22" width="14.15" height="2.00" fill="#4e97cf"/>
<rect x="43.30" y="372.22" width="14.15" height="2.00" fill="#76b4de"/>
<rect x="57.40" y="372.22" width="14.15" height="2.00" fill="#4892cd"/>
<rect x="71.50" y="372.22" width="14.15" height="2.00" fill="#3885c6"/>
<rect x="85.60" y="372.22" width="14.15" height="2.00" fill="#c73738"/>
<rect x="99.70" y="372.22" width="14.15" height="2.00" fill="#e6755d"/>
<rect x="113.80" y="372.22" width="14.15" height="2.00" fill="#f6b095"/>
<rect x="127.90" y="372.22" width="14.15" height="2.00" fill="#f7b79e"/>
<rect x="29.20" y="374.17" width="14.15" height="1.97" fill="#428ecb"/>
<rect x="43.30" y="374.17" width="14.15" height="1.97" fill="#d4e5f0"/>
<rect x="57.40" y="374.17" width="14.15" height="1.97" fill="#4e96cf"/>
<rect x="71.50" y="374.17" width="14.15" height="1.97" fill="#3e8bc9"/>
<rect x="85.60" y="374.17" width="14.15" height="1.97" fill="#ed8a6d"/>
<rect x="99.70" y="374.17" width="14.15" height="1.97" fill="#f09374"/>
<rect x="113.80" y="374.17" width="14.15" height="1.97" fill="#f4a385"/>
<rect x="127.90" y="374.17" width="14.15" height="1.97" fill="#f3a182"/>
<rect x="29.20" y="376.09" width="14.15" height="2.64" fill="#2b71b6"/>
<rect x="43.30" y="376.09" width="14.15" height="2.64" fill="#8bc0e3"/>
<rect x="57.40" y="376.09" width="14.15" height="2.64" fill="#9ecae7"/>
<rect x="71.50" y="376.09" width="14.15" height="2.64" fill="#2b72b7"/>
<rect x="85.60" y="376.09" width="14.15" height="2.64" fill="#dd5b4a"/>
<rect x="99.70" y="376.09" width="14.15" height="2.64" fill="#ee8b6f"/>
<rect x="113.80" y="376.09" width="14.15" height="2.64" fill="#f29b7b"/>
<rect x="127.90" y="376.09" width="14.15" height="2.64" fill="#fbd2bf"/>
<rect x="29.20" y="378.68" width="14.15" height="2.57" fill="#65a8d8"/>
<rect x="43.30" y="378.68" width="14.15" height="2.57" fill="#3079bd"/>
<rect x="57.40" y="378.68" width="14.15" height="2.57" fill="#9ecae7"/>
<rect x="71.50" y="378.68" width="14.15" height="2.57" fill="#b5d6ec"/>
<rect x="85.60" y="378.68" width="14.15" height="2.57" fill="#f39f81"/>
<rect x="99.70" y="378.68" width="14.15" height="2.57" fill="#dd5c4b"/>
<rect x="113.80" y="378.68" width="14.15" height="2.57" fill="#fac7b1"/>
<rect x="127.90" y="378.68" width="14.15" height="2.57" fill="#f9c1a9"/>
<rect x="29.20" y="381.20" width="14.15" height="2.10" fill="#95c5e5"/>
<rect x="43.30" y="381.20" width="14.15" height="2.10" fill="#3e8bc9"/>
<rect x="57.40" y="381.20" width="14.15" height="2.10" fill="#4b94ce"/>
<rect x="71.50" y="381.20" width="14.15" height="2.10" fill="#96c6e5"/>
<rect x="85.60" y="381.20" width="14.15" height="2.10" fill="#f19576"/>
<rect x="99.70" y="381.20" width="14.15" height="2.10" fill="#ba222d"/>
<rect x="113.80" y="381.20" width="14.15" height="2.10" fill="#dd5c4b"/>
<rect x="127.90" y="381.20" width="14.15" height="2.10" fill="#f7baa1"/>
<rect x="29.20" y="383.26" width="14.15" height="2.02" fill="#6cacda"/>
<rect x="43.30" y="383.26" width="14.15" height="2.02" fill="#5ba0d4"/>
<rect x="57.40" y="383.26" width="14.15" height="2.02" fill="#337ec0"/>
<rect x="71.50" y="383.26" width="14.15" height="2.02" fill="#c0dcee"/>
<rect x="85.60" y="383.26" width="14.15" height="2.02" fill="#f6b095"/>
<rect x="99.70" y="383.26" width="14.15" height="2.02" fill="#dc5948"/>
<rect x="113.80" y="383.26" width="14.15" height="2.02" fill="#f7b9a0"/>
<rect x="127.90" y="383.26" width="14.15" height="2.02" fill="#f6b095"/>
<rect x="29.20" y="385.22" width="14.15" height="2.57" fill="#579dd3"/>
<rect x="43.30" y="385.22" width="14.15" height="2.57" fill="#5198d0"/>
<rect x="57.40" y="385.22" width="14.15" height="2.57" fill="#3a88c8"/>
<rect x="71.50" y="385.22" width="14.15" height="2.57" fill="#afd3eb"/>
<rect x="85.60" y="385.22" width="14.15" height="2.57" fill="#ee8d70"/>
<rect x="99.70" y="385.22" width="14.15" height="2.57" fill="#e36b56"/>
<rect x="113.80" y="385.22" width="14.15" height="2.57" fill="#fad6c6"/>
<rect x="127.90" y="385.22" width="14.15" height="2.57" fill="#f7b59b"/>
<rect x="29.20" y="387.75" width="14.15" height="2.18" fill="#82bbe1"/>
<rect x="43.30" y="387.75" width="14.15" height="2.18" fill="#65a7d8"/>
<rect x="57.40" y="387.75" width="14.15" height="2.18" fill="#3580c2"/>
<rect x="71.50" y="387.75" width="14.15" height="2.18" fill="#9bc8e7"/>
<rect x="85.60" y="387.75" width="14.15" height="2.18" fill="#ef9072"/>
<rect x="99.70" y="387.75" width="14.15" height="2.18" fill="#f29979"/>
<rect x="113.80" y="387.75" width="14.15" height="2.18" fill="#f9c2aa"/>
<rect x="127.90" y="387.75" width="14.15" height="2.18" fill="#f8c0a9"/>
<rect x="29.20" y="389.87" width="14.15" height="2.78" fill="#8ec2e4"/>
<rect x="43.30" y="389.87" width="14.15" height="2.78" fill="#5da1d5"/>
<rect x="57.40" y="389.87" width="14.15" height="2.78" fill="#71b0dc"/>
<rect x="71.50" y="389.87" width="14.15" height="2.78" fill="#6faedb"/>
<rect x="85.60" y="389.87" width="14.15" height="2.78" fill="#ee8d70"/>
<rect x="99.70" y="389.87" width="14.15" height="2.78" fill="#ef9072"/>
<rect x="113.80" y="389.87" width="14.15" height="2.78" fill="#f7baa1"/>
<rect x="127.90" y="389.87" width="14.15" height="2.78" fill="#f9c2ab"/>
<rect x="29.20" y="392.60" width="14.15" height="1.87" fill="#f39d7e"/>
<rect x="43.30" y="392.60" width="14.15" height="1.87" fill="#ec866b"/>
<rect x="57.40" y="392.60" width="14.15" height="1.87" fill="#f6b095"/>
<rect x="71.50" y="392.60" width="14.15" height="1.87" fill="#e06250"/>
<rect x="85.60" y="392.60" width="14.15" height="1.87" fill="#7ab7df"/>
<rect x="99.70" y="392.60" width="14.15" height="1.87" fill="#81bae1"/>
<rect x="113.80" y="392.60" width="14.15" height="1.87" fill="#66a8d8"/>
<rect x="127.90" y="392.60" width="14.15" height="1.87" fill="#83bce1"/>
<rect x="29.20" y="394.42" width="14.15" height="1.71" fill="#e06552"/>
<rect x="43.30" y="394.42" width="14.15" height="1.71" fill="#f8bda5"/>
<rect x="57.40" y="394.42" width="14.15" height="1.71" fill="#f5a88c"/>
<rect x="71.50" y="394.42" width="14.15" height="1.71" fill="#d34a41"/>
<rect x="85.60" y="394.42" width="14.15" height="1.71" fill="#90c3e4"/>
<rect x="99.70" y="394.42" width="14.15" height="1.71" fill="#a0cbe8"/>
<rect x="113.80" y="394.42" width="14.15" height="1.71" fill="#3e8bc9"/>
<rect x="127.90" y="394.42" width="14.15" height="1.71" fill="#8ec1e4"/>
<rect x="29.20" y="396.08" width="14.15" height="1.69" fill="#f6b499"/>
<rect x="43.30" y="396.08" width="14.15" height="1.69" fill="#ed896d"/>
<rect x="57.40" y="396.08" width="14.15" height="1.69" fill="#fad8c9"/>
<rect x="71.50" y="396.08" width="14.15" height="1.69" fill="#f09274"/>
<rect x="85.60" y="396.08" width="14.15" height="1.69" fill="#5aa0d4"/>
<rect x="99.70" y="396.08" width="14.15" height="1.69" fill="#c6dff0"/>
<rect x="113.80" y="396.08" width="14.15" height="1.69" fill="#63a6d7"/>
<rect x="127.90" y="396.08" width="14.15" height="1.69" fill="#77b4de"/>
<rect x="29.20" y="397.72" width="14.15" height="2.38" fill="#cc3e3b"/>
<rect x="43.30" y="397.72" width="14.15" height="2.38" fill="#f7b9a0"/>
<rect x="57.40" y="397.72" width="14.15" height="2.38" fill="#fad5c4"/>
<rect x="71.50" y="397.72" width="14.15" height="2.38" fill="#f7b69c"/>
<rect x="85.60" y="397.72" width="14.15" height="2.38" fill="#347fc1"/>
<rect x="99.70" y="397.72" width="14.15" height="2.38" fill="#a7cfe9"/>
<rect x="113.80" y="397.72" width="14.15" height="2.38" fill="#4d96cf"/>
<rect x="127.90" y="397.72" width="14.15" height="2.38" fill="#9cc9e7"/>
<rect x="29.20" y="400.05" width="14.15" height="2.05" fill="#eb8268"/>
<rect x="43.30" y="400.05" width="14.15" height="2.05" fill="#f7b89f"/>
<rect x="57.40" y="400.05" width="14.15" height="2.05" fill="#f8bfa7"/>
<rect x="71.50" y="400.05" width="14.15" height="2.05" fill="#eb8368"/>
<rect x="85.60" y="400.05" width="14.15" height="2.05" fill="#62a5d7"/>
<rect x="99.70" y="400.05" width="14.15" height="2.05" fill="#a6cee9"/>
<rect x="113.80" y="400.05" width="14.15" height="2.05" fill="#3986c7"/>
<rect x="127.90" y="400.05" width="14.15" height="2.05" fill="#a5cee9"/>
<rect x="29.20" y="402.05" width="14.15" height="2.47" fill="#f39c7d"/>
<rect x="43.30" y="402.05" width="14.15" height="2.47" fill="#eb8368"/>
<rect x="57.40" y="402.05" width="14.15" height="2.47" fill="#f7b89f"/>
<rect x="71.50" y="402.05" width="14.15" height="2.47" fill="#ed8b6e"/>
<rect x="85.60" y="402.05" width="14.15" height="2.47" fill="#276bb2"/>
<rect x="99.70" y="402.05" width="14.15" height="2.47" fill="#63a6d7"/>
<rect x="113.80" y="402.05" width="14.15" height="2.47" fill="#83bbe1"/>
<rect x="127.90" y="402.05" width="14.15" height="2.47" fill="#539ad1"/>
<rect x="29.20" y="404.47" width="14.15" height="1.90" fill="#e6755e"/>
<rect x="43.30" y="404.47" width="14.15" height="1.90" fill="#e77961"/>
<rect x="57.40" y="404.47" width="14.15" height="1.90" fill="#f5ac91"/>
<rect x="71.50" y="404.47" width="14.15" height="1.90" fill="#f4a587"/>
<rect x="85.60" y="404.47" width="14.15" height="1.90" fill="#408dca"/>
<rect x="99.70" y="404.47" width="14.15" height="1.90" fill="#87bee2"/>
<rect x="113.80" y="404.47" width="14.15" height="1.90" fill="#3e8bca"/>
<rect x="127.90" y="404.47" width="14.15" height="1.90" fill="#6aabda"/>
<rect x="29.20" y="406.32" width="14.15" height="1.69" fill="#db5747"/>
<rect x="43.30" y="406.32" width="14.15" height="1.69" fill="#df614f"/>
<rect x="57.40" y="406.32" width="14.15" height="1.69" fill="#f29878"/>
<rect x="71.50" y="406.32" width="14.15" height="1.69" fill="#ed8b6e"/>
<rect x="85.60" y="406.32" width="14.15" height="1.69" fill="#4a94ce"/>
<rect x="99.70" y="406.32" width="14.15" height="1.69" fill="#88bee3"/>
<rect x="113.80" y="406.32" width="14.15" height="1.69" fill="#85bde2"/>
<rect x="127.90" y="406.32" width="14.15" height="1.69" fill="#6dadda"/>
<rect x="29.20" y="407.97" width="14.15" height="2.20" fill="#a11728"/>
<rect x="43.30" y="407.97" width="14.15" height="2.20" fill="#f8baa2"/>
<rect x="57.40" y="407.97" width="14.15" height="2.20" fill="#f7b89e"/>
<rect x="71.50" y="407.97" width="14.15" height="2.20" fill="#ef8e71"/>
<rect x="85.60" y="407.97" width="14.15" height="2.20" fill="#4792cd"/>
<rect x="99.70" y="407.97" width="14.15" height="2.20" fill="#97c6e6"/>
<rect x="113.80" y="407.97" width="14.15" height="2.20" fill="#cbe1f0"/>
<rect x="127.90" y="407.97" width="14.15" height="2.20" fill="#5098d0"/>
<rect x="29.20" y="410.11" width="14.15" height="2.11" fill="#d34a41"/>
<rect x="43.30" y="410.11" width="14.15" height="2.11" fill="#f4a184"/>
<rect x="57.40" y="410.11" width="14.15" height="2.11" fill="#f29b7b"/>
<rect x="71.50" y="410.11" width="14.15" height="2.11" fill="#f8bda4"/>
<rect x="85.60" y="410.11" width="14.15" height="2.11" fill="#2365ac"/>
<rect x="99.70" y="410.11" width="14.15" height="2.11" fill="#a4cde8"/>
<rect x="113.80" y="410.11" width="14.15" height="2.11" fill="#80bae1"/>
<rect x="127.90" y="410.11" width="14.15" height="2.11" fill="#3f8bca"/>
<rect x="29.20" y="412.18" width="14.15" height="2.19" fill="#dd5c4b"/>
<rect x="43.30" y="412.18" width="14.15" height="2.19" fill="#ec856a"/>
<rect x="57.40" y="412.18" width="14.15" height="2.19" fill="#f9c3ac"/>
<rect x="71.50" y="412.18" width="14.15" height="2.19" fill="#e6755e"/>
<rect x="85.60" y="412.18" width="14.15" height="2.19" fill="#3a88c8"/>
<rect x="99.70" y="412.18" width="14.15" height="2.19" fill="#93c4e5"/>
<rect x="113.80" y="412.18" width="14.15" height="2.19" fill="#a2cce8"/>
<rect x="127.90" y="412.18" width="14.15" height="2.19" fill="#7ab6df"/>
<rect x="29.20" y="414.31" width="14.15" height="1.91" fill="#ea8066"/>
<rect x="43.30" y="414.31" width="14.15" height="1.91" fill="#ea8066"/>
<rect x="57.40" y="414.31" width="14.15" height="1.91" fill="#f6af94"/>
<rect x="71.50" y="414.31" width="14.15" height="1.91" fill="#f5ad92"/>
<rect x="85.60" y="414.31" width="14.15" height="1.91" fill="#438fcb"/>
<rect x="99.70" y="414.31" width="14.15" height="1.91" fill="#63a6d7"/>
<rect x="113.80" y="414.31" width="14.15" height="1.91" fill="#d8e6f0"/>
<rect x="127.90" y="414.31" width="14.15" height="1.91" fill="#81bbe1"/>
<rect x="29.20" y="416.17" width="14.15" height="1.73" fill="#d24940"/>
<rect x="43.30" y="416.17" width="14.15" height="1.73" fill="#d85145"/>
<rect x="57.40" y="416.17" width="14.15" height="1.73" fill="#e97e65"/>
<rect x="71.50" y="416.17" width="14.15" height="1.73" fill="#f09274"/>
<rect x="85.60" y="416.17" width="14.15" height="1.73" fill="#4892cd"/>
<rect x="99.70" y="416.17" width="14.15" height="1.73" fill="#a3cde8"/>
<rect x="113.80" y="416.17" width="14.15" height="1.73" fill="#bedbee"/>
<rect x="127.90" y="416.17" width="14.15" height="1.73" fill="#76b4de"/>
<rect x="29.20" y="417.85" width="14.15" height="1.97" fill="#ec876b"/>
<rect x="43.30" y="417.85" width="14.15" height="1.97" fill="#faccb7"/>
<rect x="57.40" y="417.85" width="14.15" height="1.97" fill="#f8c0a9"/>
<rect x="71.50" y="417.85" width="14.15" height="1.97" fill="#f8bba2"/>
<rect x="85.60" y="417.85" width="14.15" height="1.97" fill="#569cd2"/>
<rect x="99.70" y="417.85" width="14.15" height="1.97" fill="#337ec0"/>
<rect x="113.80" y="417.85" width="14.15" height="1.97" fill="#93c4e5"/>
<rect x="127.90" y="417.85" width="14.15" height="1.97" fill="#a0cbe8"/>
<rect x="29.20" y="419.77" width="14.15" height="1.75" fill="#f39d7f"/>
<rect x="43.30" y="419.77" width="14.15" height="1.75" fill="#f5a98d"/>
<rect x="57.40" y="419.77" width="14.15" height="1.75" fill="#f5ac90"/>
<rect x="71.50" y="419.77" width="14.15" height="1.75" fill="#f39e80"/>
<rect x="85.60" y="419.77" width="14.15" height="1.75" fill="#3078bc"/>
<rect x="99.70" y="419.77" width="14.15" height="1.75" fill="#64a7d7"/>
<rect x="113.80" y="419.77" width="14.15" height="1.75" fill="#97c6e6"/>
<rect x="127.90" y="419.77" width="14.15" height="1.75" fill="#7eb9e0"/>
<rect x="29.20" y="421.47" width="14.15" height="2.61" fill="#f29a7b"/>
<rect x="43.30" y="421.47" width="14.15" height="2.61" fill="#e97f65"/>
<rect x="57.40" y="421.47" width="14.15" height="2.61" fill="#f9dacb"/>
<rect x="71.50" y="421.47" width="14.15" height="2.61" fill="#f6b095"/>
<rect x="85.60" y="421.47" width="14.15" height="2.61" fill="#3885c6"/>
<rect x="99.70" y="421.47" width="14.15" height="2.61" fill="#c7dff0"/>
<rect x="113.80" y="421.47" width="14.15" height="2.61" fill="#d9e7f0"/>
<rect x="127.90" y="421.47" width="14.15" height="2.61" fill="#6babda"/>
<rect x="29.20" y="424.03" width="14.15" height="2.30" fill="#db5647"/>
<rect x="43.30" y="424.03" width="14.15" height="2.30" fill="#f29b7b"/>
<rect x="57.40" y="424.03" width="14.15" height="2.30" fill="#f8c0a9"/>
<rect x="71.50" y="424.03" width="14.15" height="2.30" fill="#e4705a"/>
<rect x="85.60" y="424.03" width="14.15" height="2.30" fill="#5098d0"/>
<rect x="99.70" y="424.03" width="14.15" height="2.30" fill="#84bce2"/>
<rect x="113.80" y="424.03" width="14.15" height="2.30" fill="#b0d3eb"/>
<rect x="127.90" y="424.03" width="14.15" height="2.30" fill="#b1d4eb"/>
<rect x="29.20" y="426.29" width="14.15" height="2.63" fill="#eb8368"/>
<rect x="43.30" y="426.29" width="14.15" height="2.63" fill="#ea7f66"/>
<rect x="57.40" y="426.29" width="14.15" height="2.63" fill="#f4a689"/>
<rect x="71.50" y="426.29" width="14.15" height="2.63" fill="#ea8167"/>
<rect x="85.60" y="426.29" width="14.15" height="2.63" fill="#68aad9"/>
<rect x="99.70" y="426.29" width="14.15" height="2.63" fill="#7cb8e0"/>
<rect x="113.80" y="426.29" width="14.15" height="2.63" fill="#b1d4eb"/>
<rect x="127.90" y="426.29" width="14.15" height="2.63" fill="#8cc0e3"/>
<rect x="29.20" y="428.87" width="14.15" height="2.21" fill="#ed896d"/>
<rect x="43.30" y="428.87" width="14.15" height="2.21" fill="#f5a88c"/>
<rect x="57.40" y="428.87" width="14.15" height="2.21" fill="#e6755e"/>
<rect x="71.50" y="428.87" width="14.15" height="2.21" fill="#f4a587"/>
<rect x="85.60" y="428.87" width="14.15" height="2.21" fill="#63a6d7"/>
<rect x="99.70" y="428.87" width="14.15" height="2.21" fill="#327cbe"/>
<rect x="113.80" y="428.87" width="14.15" height="2.21" fill="#c4deef"/>
<rect x="127.90" y="428.87" width="14.15" height="2.21" fill="#a1cce8"/>
<rect x="29.20" y="431.03" width="14.15" height="2.07" fill="#e97f65"/>
<rect x="43.30" y="431.03" width="14.15" height="2.07" fill="#f09375"/>
<rect x="57.40" y="431.03" width="14.15" height="2.07" fill="#f3a082"/>
<rect x="71.50" y="431.03" width="14.15" height="2.07" fill="#fbceb9"/>
<rect x="85.60" y="431.03" width="14.15" height="2.07" fill="#2d75b9"/>
<rect x="99.70" y="431.03" width="14.15" height="2.07" fill="#5ea3d5"/>
<rect x="113.80" y="431.03" width="14.15" height="2.07" fill="#9bc8e7"/>
<rect x="127.90" y="431.03" width="14.15" height="2.07" fill="#569cd2"/>
<rect x="29.20" y="433.05" width="14.15" height="1.84" fill="#f9d9c9"/>
<rect x="43.30" y="433.05" width="14.15" height="1.84" fill="#ee8b6e"/>
<rect x="57.40" y="433.05" width="14.15" height="1.84" fill="#e46e59"/>
<rect x="71.50" y="433.05" width="14.15" height="1.84" fill="#f8bfa7"/>
<rect x="85.60" y="433.05" width="14.15" height="1.84" fill="#3f8bca"/>
<rect x="99.70" y="433.05" width="14.15" height="1.84" fill="#5da2d5"/>
<rect x="113.80" y="433.05" width="14.15" height="1.84" fill="#82bbe1"/>
<rect x="127.90" y="433.05" width="14.15" height="1.84" fill="#60a4d6"/>
<rect x="29.20" y="434.85" width="14.15" height="1.81" fill="#eb8368"/>
<rect x="43.30" y="434.85" width="14.15" height="1.81" fill="#dc5848"/>
<rect x="57.40" y="434.85" width="14.15" height="1.81" fill="#d0463f"/>
<rect x="71.50" y="434.85" width="14.15" height="1.81" fill="#f4a486"/>
<rect x="85.60" y="434.85" width="14.15" height="1.81" fill="#347fc1"/>
<rect x="99.70" y="434.85" width="14.15" height="1.81" fill="#a0cbe8"/>
<rect x="113.80" y="434.85" width="14.15" height="1.81" fill="#96c6e5"/>
<rect x="127.90" y="434.85" width="14.15" height="1.81" fill="#96c5e5"/>
<rect x="29.20" y="436.61" width="14.15" height="2.14" fill="#f6b49a"/>
<rect x="43.30" y="436.61" width="14.15" height="2.14" fill="#e77860"/>
<rect x="57.40" y="436.61" width="14.15" height="2.14" fill="#e36d58"/>
<rect x="71.50" y="436.61" width="14.15" height="2.14" fill="#fbd2bf"/>
<rect x="85.60" y="436.61" width="14.15" height="2.14" fill="#3885c6"/>
<rect x="99.70" y="436.61" width="14.15" height="2.14" fill="#8abfe3"/>
<rect x="113.80" y="436.61" width="14.15" height="2.14" fill="#96c5e5"/>
<rect x="127.90" y="436.61" width="14.15" height="2.14" fill="#67a8d8"/>
<rect x="29.20" y="438.69" width="14.15" height="2.18" fill="#f4a486"/>
<rect x="43.30" y="438.69" width="14.15" height="2.18" fill="#ee8d6f"/>
<rect x="57.40" y="438.69" width="14.15" height="2.18" fill="#e5715b"/>
<rect x="71.50" y="438.69" width="14.15" height="2.18" fill="#f39e7f"/>
<rect x="85.60" y="438.69" width="14.15" height="2.18" fill="#4993ce"/>
<rect x="99.70" y="438.69" width="14.15" height="2.18" fill="#4590cc"/>
<rect x="113.80" y="438.69" width="14.15" height="2.18" fill="#cde2f0"/>
<rect x="127.90" y="438.69" width="14.15" height="2.18" fill="#599fd3"/>
<rect x="29.20" y="440.82" width="14.15" height="1.80" fill="#f9c4ad"/>
<rect x="43.30" y="440.82" width="14.15" height="1.80" fill="#cd413d"/>
<rect x="57.40" y="440.82" width="14.15" height="1.80" fill="#f4a487"/>
<rect x="71.50" y="440.82" width="14.15" height="1.80" fill="#fac8b2"/>
<rect x="85.60" y="440.82" width="14.15" height="1.80" fill="#3682c3"/>
<rect x="99.70" y="440.82" width="14.15" height="1.80" fill="#559cd2"/>
<rect x="113.80" y="440.82" width="14.15" height="1.80" fill="#aed2ea"/>
<rect x="127.90" y="440.82" width="14.15" height="1.80" fill="#9ecae7"/>
<rect x="29.20" y="442.57" width="14.15" height="1.73" fill="#f4a285"/>
<rect x="43.30" y="442.57" width="14.15" height="1.73" fill="#f39c7d"/>
<rect x="57.40" y="442.57" width="14.15" height="1.73" fill="#f4a689"/>
<rect x="71.50" y="442.57" width="14.15" height="1.73" fill="#f5a88b"/>
<rect x="85.60" y="442.57" width="14.15" height="1.73" fill="#5199d1"/>
<rect x="99.70" y="442.57" width="14.15" height="1.73" fill="#549bd1"/>
<rect x="113.80" y="442.57" width="14.15" height="1.73" fill="#8bc0e3"/>
<rect x="127.90" y="442.57" width="14.15" height="1.73" fill="#66a8d8"/>
<rect x="29.20" y="444.25" width="14.15" height="2.14" fill="#f5ac91"/>
<rect x="43.30" y="444.25" width="14.15" height="2.14" fill="#ed8b6e"/>
<rect x="57.40" y="444.25" width="14.15" height="2.14" fill="#e06451"/>
<rect x="71.50" y="444.25" width="14.15" height="2.14" fill="#f8bca3"/>
<rect x="85.60" y="444.25" width="14.15" height="2.14" fill="#3e8bca"/>
<rect x="99.70" y="444.25" width="14.15" height="2.14" fill="#7db8e0"/>
<rect x="113.80" y="444.25" width="14.15" height="2.14" fill="#78b5de"/>
<rect x="127.90" y="444.25" width="14.15" height="2.14" fill="#6eaedb"/>
<rect x="29.20" y="446.34" width="14.15" height="2.78" fill="#fac7b1"/>
<rect x="43.30" y="446.34" width="14.15" height="2.78" fill="#f4a588"/>
<rect x="57.40" y="446.34" width="14.15" height="2.78" fill="#e97f65"/>
<rect x="71.50" y="446.34" width="14.15" height="2.78" fill="#f7b9a0"/>
<rect x="85.60" y="446.34" width="14.15" height="2.78" fill="#79b6df"/>
<rect x="99.70" y="446.34" width="14.15" height="2.78" fill="#c6dff0"/>
<rect x="113.80" y="446.34" width="14.15" height="2.78" fill="#549bd2"/>
<rect x="127.90" y="446.34" width="14.15" height="2.78" fill="#6fafdb"/>
<rect x="29.20" y="449.07" width="14.15" height="2.33" fill="#f5ab8f"/>
<rect x="43.30" y="449.07" width="14.15" height="2.33" fill="#de5f4d"/>
<rect x="57.40" y="449.07" width="14.15" height="2.33" fill="#ec886c"/>
<rect x="71.50" y="449.07" width="14.15" height="2.33" fill="#fad8c8"/>
<rect x="85.60" y="449.07" width="14.15" height="2.33" fill="#69aad9"/>
<rect x="99.70" y="449.07" width="14.15" height="2.33" fill="#b9d8ed"/>
<rect x="113.80" y="449.07" width="14.15" height="2.33" fill="#4792cd"/>
<rect x="127.90" y="449.07" width="14.15" height="2.33" fill="#448fcc"/>
<rect x="29.20" y="451.35" width="14.15" height="2.04" fill="#f6b499"/>
<rect x="43.30" y="451.35" width="14.15" height="2.04" fill="#ef9072"/>
<rect x="57.40" y="451.35" width="14.15" height="2.04" fill="#f39e7f"/>
<rect x="71.50" y="451.35" width="14.15" height="2.04" fill="#f39c7d"/>
<rect x="85.60" y="451.35" width="14.15" height="2.04" fill="#95c5e5"/>
<rect x="99.70" y="451.35" width="14.15" height="2.04" fill="#347ec0"/>
<rect x="113.80" y="451.35" width="14.15" height="2.04" fill="#71b0dc"/>
<rect x="127.90" y="451.35" width="14.15" height="2.04" fill="#3580c2"/>
<rect x="29.20" y="453.34" width="14.15" height="2.14" fill="#fac9b4"/>
<rect x="43.30" y="453.34" width="14.15" height="2.14" fill="#e36c57"/>
<rect x="57.40" y="453.34" width="14.15" height="2.14" fill="#d64f43"/>
<rect x="71.50" y="453.34" width="14.15" height="2.14" fill="#d24940"/>
<rect x="85.60" y="453.34" width="14.15" height="2.14" fill="#75b3dd"/>
<rect x="99.70" y="453.34" width="14.15" height="2.14" fill="#3783c4"/>
<rect x="113.80" y="453.34" width="14.15" height="2.14" fill="#549bd1"/>
<rect x="127.90" y="453.34" width="14.15" height="2.14" fill="#599fd3"/>
<rect x="29.20" y="455.42" width="14.15" height="2.81" fill="#f9d9ca"/>
<rect x="43.30" y="455.42" width="14.15" height="2.81" fill="#e36c57"/>
<rect x="57.40" y="455.42" width="14.15" height="2.81" fill="#ed896c"/>
<rect x="71.50" y="455.42" width="14.15" height="2.81" fill="#fbd0bc"/>
<rect x="85.60" y="455.42" width="14.15" height="2.81" fill="#87bee2"/>
<rect x="99.70" y="455.42" width="14.15" height="2.81" fill="#2264ac"/>
<rect x="113.80" y="455.42" width="14.15" height="2.81" fill="#418dcb"/>
<rect x="127.90" y="455.42" width="14.15" height="2.81" fill="#89bfe3"/>
<rect x="29.20" y="458.19" width="14.15" height="1.70" fill="#fad4c2"/>
<rect x="43.30" y="458.19" width="14.15" height="1.70" fill="#f39f81"/>
<rect x="57.40" y="458.19" width="14.15" height="1.70" fill="#e77961"/>
<rect x="71.50" y="458.19" width="14.15" height="1.70" fill="#f3a183"/>
<rect x="85.60" y="458.19" width="14.15" height="1.70" fill="#acd1ea"/>
<rect x="99.70" y="458.19" width="14.15" height="1.70" fill="#3e8bca"/>
<rect x="113.80" y="458.19" width="14.15" height="1.70" fill="#529ad1"/>
<rect x="127.90" y="458.19" width="14.15" height="1.70" fill="#afd3eb"/>
<rect x="29.20" y="459.84" width="14.15" height="1.74" fill="#f7e4da"/>
<rect x="43.30" y="459.84" width="14.15" height="1.74" fill="#eb8368"/>
<rect x="57.40" y="459.84" width="14.15" height="1.74" fill="#ce423d"/>
<rect x="71.50" y="459.84" width="14.15" height="1.74" fill="#f6b096"/>
<rect x="85.60" y="459.84" width="14.15" height="1.74" fill="#c2ddef"/>
<rect x="99.70" y="459.84" width="14.15" height="1.74" fill="#3783c4"/>
<rect x="113.80" y="459.84" width="14.15" height="1.74" fill="#8ec1e4"/>
<rect x="127.90" y="459.84" width="14.15" height="1.74" fill="#82bbe1"/>
<rect x="29.20" y="461.53" width="14.15" height="1.66" fill="#e46f5a"/>
<rect x="43.30" y="461.53" width="14.15" height="1.66" fill="#da5446"/>
<rect x="57.40" y="461.53" width="14.15" height="1.66" fill="#d85245"/>
<rect x="71.50" y="461.53" width="14.15" height="1.66" fill="#f7b99f"/>
<rect x="85.60" y="461.53" width="14.15" height="1.66" fill="#a4cde8"/>
<rect x="99.70" y="461.53" width="14.15" height="1.66" fill="#97c6e6"/>
<rect x="113.80" y="461.53" width="14.15" height="1.66" fill="#5fa3d5"/>
<rect x="127.90" y="461.53" width="14.15" height="1.66" fill="#3987c7"/>
<rect x="29.20" y="463.14" width="14.15" height="1.68" fill="#f7b69c"/>
<rect x="43.30" y="463.14" width="14.15" height="1.68" fill="#e16854"/>
<rect x="57.40" y="463.14" width="14.15" height="1.68" fill="#b9222d"/>
<rect x="71.50" y="463.14" width="14.15" height="1.68" fill="#f6ae93"/>
<rect x="85.60" y="463.14" width="14.15" height="1.68" fill="#b5d6ec"/>
<rect x="99.70" y="463.14" width="14.15" height="1.68" fill="#4c95ce"/>
<rect x="113.80" y="463.14" width="14.15" height="1.68" fill="#8bc0e3"/>
<rect x="127.90" y="463.14" width="14.15" height="1.68" fill="#b7d7ec"/>
<rect x="29.20" y="464.77" width="14.15" height="2.61" fill="#f6b095"/>
<rect x="43.30" y="464.77" width="14.15" height="2.61" fill="#e16653"/>
<rect x="57.40" y="464.77" width="14.15" height="2.61" fill="#a81a29"/>
<rect x="71.50" y="464.77" width="14.15" height="2.61" fill="#fbcfbb"/>
<rect x="85.60" y="464.77" width="14.15" height="2.61" fill="#94c5e5"/>
<rect x="99.70" y="464.77" width="14.15" height="2.61" fill="#7db8e0"/>
<rect x="113.80" y="464.77" width="14.15" height="2.61" fill="#87bee2"/>
<rect x="127.90" y="464.77" width="14.15" height="2.61" fill="#60a4d6"/>
<rect x="29.20" y="467.33" width="14.15" height="2.42" fill="#f8bea6"/>
<rect x="43.30" y="467.33" width="14.15" height="2.42" fill="#e16753"/>
<rect x="57.40" y="467.33" width="14.15" height="2.42" fill="#e46f59"/>
<rect x="71.50" y="467.33" width="14.15" height="2.42" fill="#fbd3c0"/>
<rect x="85.60" y="467.33" width="14.15" height="2.42" fill="#c2ddef"/>
<rect x="99.70" y="467.33" width="14.15" height="2.42" fill="#5ca1d4"/>
<rect x="113.80" y="467.33" width="14.15" height="2.42" fill="#76b4de"/>
<rect x="127.90" y="467.33" width="14.15" height="2.42" fill="#8fc2e4"/>
<rect x="29.20" y="469.69" width="14.15" height="2.19" fill="#fbd2be"/>
<rect x="43.30" y="469.69" width="14.15" height="2.19" fill="#e16552"/>
<rect x="57.40" y="469.69" width="14.15" height="2.19" fill="#ee8b6e"/>
<rect x="71.50" y="469.69" width="14.15" height="2.19" fill="#f29878"/>
<rect x="85.60" y="469.69" width="14.15" height="2.19" fill="#f5f1ef"/>
<rect x="99.70" y="469.69" width="14.15" height="2.19" fill="#80bae1"/>
<rect x="113.80" y="469.69" width="14.15" height="2.19" fill="#90c3e4"/>
<rect x="127.90" y="469.69" width="14.15" height="2.19" fill="#b3d5eb"/>
<rect x="29.20" y="471.84" width="14.15" height="2.26" fill="#f6b499"/>
<rect x="43.30" y="471.84" width="14.15" height="2.26" fill="#e16552"/>
<rect x="57.40" y="471.84" width="14.15" height="2.26" fill="#f7b89e"/>
<rect x="71.50" y="471.84" width="14.15" height="2.26" fill="#f29a7b"/>
<rect x="85.60" y="471.84" width="14.15" height="2.26" fill="#96c6e6"/>
<rect x="99.70" y="471.84" width="14.15" height="2.26" fill="#9fcae7"/>
<rect x="113.80" y="471.84" width="14.15" height="2.26" fill="#9fcae7"/>
<rect x="127.90" y="471.84" width="14.15" height="2.26" fill="#80bae1"/>
<rect x="29.20" y="474.04" width="14.15" height="2.31" fill="#f4a385"/>
<rect x="43.30" y="474.04" width="14.15" height="2.31" fill="#f09374"/>
<rect x="57.40" y="474.04" width="14.15" height="2.31" fill="#ec856a"/>
<rect x="71.50" y="474.04" width="14.15" height="2.31" fill="#f9c4ae"/>
<rect x="85.60" y="474.04" width="14.15" height="2.31" fill="#5299d1"/>
<rect x="99.70" y="474.04" width="14.15" height="2.31" fill="#8cc1e3"/>
<rect x="113.80" y="474.04" width="14.15" height="2.31" fill="#b1d4eb"/>
<rect x="127.90" y="474.04" width="14.15" height="2.31" fill="#9dcae7"/>
</g>
<polygon points="157.2,304.9 167.2,321.8 162.3,321.8 162.3,340.8 152.3,340.8 152.3,321.8 147.3,321.8" fill="#c42a24" stroke="#ac2620" stroke-width="0.5"/>
<polygon points="154.2,417.8 163.6,417.8 163.6,436.3 168.1,436.3 158.7,453.5 149.1,436.3 154.2,436.3" fill="#176bb0"/>
<text x="173.4" y="335.8" font-size="10.4" fill="#111" stroke="#111" stroke-width="0.58" font-weight="bold" textLength="16.5" lengthAdjust="spacingAndGlyphs">387</text>
<text x="174.0" y="432.2" font-size="10.4" fill="#111" stroke="#111" stroke-width="0.58" font-weight="bold" textLength="17.7" lengthAdjust="spacingAndGlyphs">235</text>
<line x1="31.3" y1="482.7" x2="82" y2="482.7" stroke="#111" stroke-width="1.5"/>
<line x1="89.5" y1="482.7" x2="139.5" y2="482.7" stroke="#111" stroke-width="1.5"/>
<text x="58.4" y="495.6" font-size="10.5" fill="#111" stroke="#111" stroke-width="0.4" text-anchor="middle" textLength="15.4" lengthAdjust="spacingAndGlyphs">KO</text>
<text x="115" y="495.6" font-size="10.5" fill="#111" stroke="#111" stroke-width="0.4" text-anchor="middle" textLength="16.8" lengthAdjust="spacingAndGlyphs">WT</text>
<text x="225.0" y="203.5" font-size="10.8" fill="#000" stroke="#000" stroke-width="0.58" font-weight="bold">D</text>
<rect x="255.5" y="246.3" width="128.10000000000002" height="95.89999999999998" fill="#fff" stroke="#e4e4e4" stroke-width="0.7"/>
<rect x="255.5" y="246.3" width="128.10000000000002" height="0.8" fill="#cfcfcf"/>
<rect x="255.9" y="247.10000000000002" width="4.9" height="94.69999999999997" fill="#f3f3f3"/>
<line x1="261" y1="305.20" x2="381.5" y2="305.20" stroke="#eeeeee" stroke-width="0.6"/>
<text x="255.7" y="306.80" font-size="4.5" fill="#6e6e6e" stroke="#6e6e6e" stroke-width="0.15" textLength="4.7" lengthAdjust="spacingAndGlyphs">0.0</text>
<line x1="261" y1="295.40" x2="381.5" y2="295.40" stroke="#eeeeee" stroke-width="0.6"/>
<text x="255.7" y="297.00" font-size="4.5" fill="#6e6e6e" stroke="#6e6e6e" stroke-width="0.15" textLength="4.7" lengthAdjust="spacingAndGlyphs">0.1</text>
<line x1="261" y1="285.60" x2="381.5" y2="285.60" stroke="#eeeeee" stroke-width="0.6"/>
<text x="255.7" y="287.20" font-size="4.5" fill="#6e6e6e" stroke="#6e6e6e" stroke-width="0.15" textLength="4.7" lengthAdjust="spacingAndGlyphs">0.2</text>
<line x1="261" y1="275.80" x2="381.5" y2="275.80" stroke="#eeeeee" stroke-width="0.6"/>
<text x="255.7" y="277.40" font-size="4.5" fill="#6e6e6e" stroke="#6e6e6e" stroke-width="0.15" textLength="4.7" lengthAdjust="spacingAndGlyphs">0.3</text>
<line x1="261" y1="266.00" x2="381.5" y2="266.00" stroke="#eeeeee" stroke-width="0.6"/>
<text x="255.7" y="267.60" font-size="4.5" fill="#6e6e6e" stroke="#6e6e6e" stroke-width="0.15" textLength="4.7" lengthAdjust="spacingAndGlyphs">0.4</text>
<line x1="261" y1="256.20" x2="381.5" y2="256.20" stroke="#eeeeee" stroke-width="0.6"/>
<text x="255.7" y="257.80" font-size="4.5" fill="#6e6e6e" stroke="#6e6e6e" stroke-width="0.15" textLength="4.7" lengthAdjust="spacingAndGlyphs">0.5</text>
<line x1="261.00" y1="246.3" x2="261.00" y2="311.60" stroke="#f0f0f0" stroke-width="0.6"/>
<line x1="280.75" y1="246.3" x2="280.75" y2="311.60" stroke="#f0f0f0" stroke-width="0.6"/>
<line x1="300.50" y1="246.3" x2="300.50" y2="311.60" stroke="#f0f0f0" stroke-width="0.6"/>
<line x1="320.25" y1="246.3" x2="320.25" y2="311.60" stroke="#f0f0f0" stroke-width="0.6"/>
<line x1="340.00" y1="246.3" x2="340.00" y2="311.60" stroke="#f0f0f0" stroke-width="0.6"/>
<line x1="359.75" y1="246.3" x2="359.75" y2="311.60" stroke="#f0f0f0" stroke-width="0.6"/>
<line x1="261" y1="246.3" x2="261" y2="342.2" stroke="#d8d8d8" stroke-width="0.7"/>
<line x1="261" y1="305.2" x2="382.5" y2="305.2" stroke="#9a9a9a" stroke-width="0.8"/>
<line x1="261" y1="314.20000000000005" x2="383.6" y2="314.20000000000005" stroke="#dddddd" stroke-width="0.6"/>
<rect x="261.2" y="314.6" width="2.40" height="21.20" fill="rgb(48,48,48)"/>
<rect x="263.6" y="314.6" width="1.60" height="21.20" fill="rgb(64,64,64)"/>
<rect x="265.2" y="314.6" width="2.40" height="21.20" fill="rgb(56,56,56)"/>
<rect x="267.6" y="314.6" width="0.60" height="21.20" fill="rgb(120,120,120)"/>
<rect x="268.2" y="314.6" width="1.90" height="21.20" fill="rgb(225,225,225)"/>
<rect x="270.1" y="314.6" width="1.80" height="21.20" fill="rgb(8,8,8)"/>
<rect x="271.9" y="314.6" width="2.20" height="21.20" fill="rgb(160,160,160)"/>
<rect x="274.1" y="314.6" width="0.90" height="21.20" fill="rgb(144,144,144)"/>
<rect x="275" y="314.6" width="1.80" height="21.20" fill="rgb(170,170,170)"/>
<rect x="276.8" y="314.6" width="2.50" height="21.20" fill="rgb(85,85,85)"/>
<rect x="279.3" y="314.6" width="0.90" height="21.20" fill="rgb(119,119,119)"/>
<rect x="280.2" y="314.6" width="1.00" height="21.20" fill="rgb(74,74,74)"/>
<rect x="281.2" y="314.6" width="1.20" height="21.20" fill="rgb(128,128,128)"/>
<rect x="282.4" y="314.6" width="0.90" height="21.20" fill="rgb(153,153,153)"/>
<rect x="283.3" y="314.6" width="0.90" height="21.20" fill="rgb(80,80,80)"/>
<rect x="284.2" y="314.6" width="2.50" height="21.20" fill="rgb(106,106,106)"/>
<rect x="286.7" y="314.6" width="1.80" height="21.20" fill="rgb(32,32,32)"/>
<rect x="288.5" y="314.6" width="2.50" height="21.20" fill="rgb(128,128,128)"/>
<rect x="291" y="314.6" width="1.90" height="21.20" fill="rgb(48,48,48)"/>
<rect x="292.9" y="314.6" width="1.90" height="21.20" fill="rgb(192,192,192)"/>
<rect x="294.8" y="314.6" width="1.30" height="21.20" fill="rgb(136,136,136)"/>
<rect x="298.7" y="314.6" width="2.60" height="21.20" fill="rgb(32,32,32)"/>
<rect x="301.3" y="314.6" width="2.20" height="21.20" fill="rgb(144,144,144)"/>
<rect x="303.5" y="314.6" width="2.30" height="21.20" fill="rgb(96,96,96)"/>
<rect x="305.8" y="314.6" width="1.30" height="21.20" fill="rgb(230,230,230)"/>
<rect x="307.1" y="314.6" width="2.50" height="21.20" fill="rgb(112,112,112)"/>
<rect x="313.8" y="314.6" width="2.30" height="21.20" fill="rgb(136,136,136)"/>
<rect x="323.2" y="314.6" width="2.30" height="21.20" fill="rgb(192,192,192)"/>
<rect x="325.5" y="314.6" width="2.50" height="21.20" fill="rgb(144,144,144)"/>
<rect x="329.6" y="314.6" width="2.00" height="21.20" fill="rgb(200,200,200)"/>
<rect x="335.5" y="314.6" width="2.20" height="21.20" fill="rgb(160,160,160)"/>
<rect x="337.7" y="314.6" width="1.90" height="21.20" fill="rgb(96,96,96)"/>
<rect x="339.6" y="314.6" width="1.70" height="21.20" fill="rgb(144,144,144)"/>
<rect x="341.3" y="314.6" width="2.50" height="21.20" fill="rgb(88,88,88)"/>
<rect x="343.8" y="314.6" width="1.00" height="21.20" fill="rgb(192,192,192)"/>
<rect x="344.8" y="314.6" width="2.60" height="21.20" fill="rgb(96,96,96)"/>
<rect x="347.4" y="314.6" width="1.90" height="21.20" fill="rgb(144,144,144)"/>
<rect x="350.9" y="314.6" width="2.60" height="21.20" fill="rgb(48,48,48)"/>
<rect x="353.5" y="314.6" width="1.60" height="21.20" fill="rgb(192,192,192)"/>
<rect x="355.1" y="314.6" width="1.00" height="21.20" fill="rgb(80,80,80)"/>
<rect x="356.1" y="314.6" width="1.90" height="21.20" fill="rgb(160,160,160)"/>
<rect x="358" y="314.6" width="1.30" height="21.20" fill="rgb(112,112,112)"/>
<rect x="359.3" y="314.6" width="2.30" height="21.20" fill="rgb(160,160,160)"/>
<rect x="361.6" y="314.6" width="1.90" height="21.20" fill="rgb(40,40,40)"/>
<rect x="363.5" y="314.6" width="1.60" height="21.20" fill="rgb(208,208,208)"/>
<rect x="365.1" y="314.6" width="1.30" height="21.20" fill="rgb(144,144,144)"/>
<rect x="366.4" y="314.6" width="1.60" height="21.20" fill="rgb(224,224,224)"/>
<rect x="368" y="314.6" width="1.60" height="21.20" fill="rgb(80,80,80)"/>
<rect x="369.6" y="314.6" width="2.60" height="21.20" fill="rgb(168,168,168)"/>
<rect x="372.2" y="314.6" width="3.30" height="21.20" fill="rgb(160,160,160)"/>
<rect x="375.5" y="314.6" width="1.90" height="21.20" fill="rgb(216,216,216)"/>
<rect x="377.4" y="314.6" width="1.60" height="21.20" fill="rgb(128,128,128)"/>
<defs><linearGradient id="cb255246" x1="0" x2="1" y1="0" y2="0"><stop offset="0.0000" stop-color="#cc3040"/><stop offset="0.0338" stop-color="#de4050"/><stop offset="0.2700" stop-color="#ec6c7c"/><stop offset="0.2852" stop-color="#f4aed8"/><stop offset="0.6278" stop-color="#f2bce2"/><stop offset="0.6397" stop-color="#e0dcf6"/><stop offset="0.8473" stop-color="#c8c4f2"/><stop offset="0.8591" stop-color="#8c8aee"/><stop offset="0.9527" stop-color="#5252de"/><stop offset="0.9646" stop-color="#2020ac"/><stop offset="1.0000" stop-color="#10108e"/></linearGradient></defs>
<rect x="261" y="335.8" width="118.5" height="6.0" fill="url(#cb255246)"/>
<polyline points="260.9,305.2 262,294.5 263,283.9 264,274.6 265.3,268 266.6,262.6 268,260.6 269.3,261.3 270.6,259.3 271.3,255.3 272.6,253 275.3,252.6 278,251.3 281.3,250 286,250.2 290,251.7 294,254 298,257.3 304.5,262.6 311.2,268 315,270.8 321.7,276.8 328.5,282.9 335.2,288.9 341.9,294.3 348.6,299.7 355.4,304.4 362.1,307.4 368.8,309.1 372.2,310 374.9,309.1 376.9,308.2 378.3,305.8 379.3,304.7" fill="none" stroke="#46de46" stroke-width="1.65" stroke-linejoin="round"/>
<text x="335.2" y="260.8" font-size="6.6" fill="#1a1a1a" stroke="#1a1a1a" stroke-width="0.22" font-weight="bold" textLength="29.6" lengthAdjust="spacingAndGlyphs">NES: 1.56</text>
<text x="335.2" y="268.5" font-size="6.6" fill="#1a1a1a" stroke="#1a1a1a" stroke-width="0.22" font-weight="bold" textLength="29.6" lengthAdjust="spacingAndGlyphs">FDR: 0.02</text>
<rect x="390.2" y="247.2" width="128.50000000000006" height="95.0" fill="#fff" stroke="#e4e4e4" stroke-width="0.7"/>
<rect x="390.2" y="247.2" width="128.50000000000006" height="0.8" fill="#cfcfcf"/>
<rect x="390.59999999999997" y="248.0" width="5.9" height="93.8" fill="#f3f3f3"/>
<line x1="396.7" y1="308.20" x2="515.7" y2="308.20" stroke="#eeeeee" stroke-width="0.6"/>
<text x="390.4" y="309.80" font-size="4.5" fill="#6e6e6e" stroke="#6e6e6e" stroke-width="0.15" textLength="4.7" lengthAdjust="spacingAndGlyphs">0.0</text>
<line x1="396.7" y1="299.78" x2="515.7" y2="299.78" stroke="#eeeeee" stroke-width="0.6"/>
<text x="390.4" y="301.38" font-size="4.5" fill="#6e6e6e" stroke="#6e6e6e" stroke-width="0.15" textLength="4.7" lengthAdjust="spacingAndGlyphs">0.1</text>
<line x1="396.7" y1="291.36" x2="515.7" y2="291.36" stroke="#eeeeee" stroke-width="0.6"/>
<text x="390.4" y="292.96" font-size="4.5" fill="#6e6e6e" stroke="#6e6e6e" stroke-width="0.15" textLength="4.7" lengthAdjust="spacingAndGlyphs">0.2</text>
<line x1="396.7" y1="282.94" x2="515.7" y2="282.94" stroke="#eeeeee" stroke-width="0.6"/>
<text x="390.4" y="284.54" font-size="4.5" fill="#6e6e6e" stroke="#6e6e6e" stroke-width="0.15" textLength="4.7" lengthAdjust="spacingAndGlyphs">0.3</text>
<line x1="396.7" y1="274.52" x2="515.7" y2="274.52" stroke="#eeeeee" stroke-width="0.6"/>
<text x="390.4" y="276.12" font-size="4.5" fill="#6e6e6e" stroke="#6e6e6e" stroke-width="0.15" textLength="4.7" lengthAdjust="spacingAndGlyphs">0.4</text>
<line x1="396.7" y1="266.10" x2="515.7" y2="266.10" stroke="#eeeeee" stroke-width="0.6"/>
<text x="390.4" y="267.70" font-size="4.5" fill="#6e6e6e" stroke="#6e6e6e" stroke-width="0.15" textLength="4.7" lengthAdjust="spacingAndGlyphs">0.5</text>
<line x1="396.7" y1="257.68" x2="515.7" y2="257.68" stroke="#eeeeee" stroke-width="0.6"/>
<text x="390.4" y="259.28" font-size="4.5" fill="#6e6e6e" stroke="#6e6e6e" stroke-width="0.15" textLength="4.7" lengthAdjust="spacingAndGlyphs">0.6</text>
<line x1="396.7" y1="249.26" x2="515.7" y2="249.26" stroke="#eeeeee" stroke-width="0.6"/>
<text x="390.4" y="250.86" font-size="4.5" fill="#6e6e6e" stroke="#6e6e6e" stroke-width="0.15" textLength="4.7" lengthAdjust="spacingAndGlyphs">0.7</text>
<line x1="396.70" y1="247.2" x2="396.70" y2="311.80" stroke="#f0f0f0" stroke-width="0.6"/>
<line x1="416.20" y1="247.2" x2="416.20" y2="311.80" stroke="#f0f0f0" stroke-width="0.6"/>
<line x1="435.70" y1="247.2" x2="435.70" y2="311.80" stroke="#f0f0f0" stroke-width="0.6"/>
<line x1="455.20" y1="247.2" x2="455.20" y2="311.80" stroke="#f0f0f0" stroke-width="0.6"/>
<line x1="474.70" y1="247.2" x2="474.70" y2="311.80" stroke="#f0f0f0" stroke-width="0.6"/>
<line x1="494.20" y1="247.2" x2="494.20" y2="311.80" stroke="#f0f0f0" stroke-width="0.6"/>
<line x1="396.7" y1="247.2" x2="396.7" y2="342.2" stroke="#d8d8d8" stroke-width="0.7"/>
<line x1="396.7" y1="308.2" x2="516.7" y2="308.2" stroke="#9a9a9a" stroke-width="0.8"/>
<line x1="396.7" y1="314.40000000000003" x2="518.7" y2="314.40000000000003" stroke="#dddddd" stroke-width="0.6"/>
<rect x="396.6" y="314.8" width="3.20" height="21.40" fill="rgb(8,8,8)"/>
<rect x="399.8" y="314.8" width="1.70" height="21.40" fill="rgb(208,208,208)"/>
<rect x="401.5" y="314.8" width="1.60" height="21.40" fill="rgb(64,64,64)"/>
<rect x="403.1" y="314.8" width="1.60" height="21.40" fill="rgb(216,216,216)"/>
<rect x="404.7" y="314.8" width="1.30" height="21.40" fill="rgb(64,64,64)"/>
<rect x="406" y="314.8" width="1.30" height="21.40" fill="rgb(208,208,208)"/>
<rect x="407.3" y="314.8" width="1.90" height="21.40" fill="rgb(56,56,56)"/>
<rect x="409.2" y="314.8" width="2.90" height="21.40" fill="rgb(208,208,208)"/>
<rect x="412.1" y="314.8" width="2.30" height="21.40" fill="rgb(168,168,168)"/>
<rect x="414.4" y="314.8" width="2.90" height="21.40" fill="rgb(176,176,176)"/>
<rect x="417.3" y="314.8" width="1.60" height="21.40" fill="rgb(208,208,208)"/>
<rect x="418.9" y="314.8" width="0.90" height="21.40" fill="rgb(144,144,144)"/>
<rect x="419.8" y="314.8" width="1.00" height="21.40" fill="rgb(208,208,208)"/>
<rect x="420.8" y="314.8" width="1.30" height="21.40" fill="rgb(80,80,80)"/>
<rect x="422.1" y="314.8" width="1.30" height="21.40" fill="rgb(208,208,208)"/>
<rect x="423.4" y="314.8" width="1.00" height="21.40" fill="rgb(160,160,160)"/>
<rect x="427" y="314.8" width="1.50" height="21.40" fill="rgb(224,224,224)"/>
<rect x="428.5" y="314.8" width="1.70" height="21.40" fill="rgb(16,16,16)"/>
<rect x="433" y="314.8" width="1.70" height="21.40" fill="rgb(168,168,168)"/>
<rect x="436" y="314.8" width="1.60" height="21.40" fill="rgb(112,112,112)"/>
<rect x="437.6" y="314.8" width="1.60" height="21.40" fill="rgb(80,80,80)"/>
<rect x="447" y="314.8" width="1.90" height="21.40" fill="rgb(144,144,144)"/>
<rect x="450.5" y="314.8" width="1.30" height="21.40" fill="rgb(136,136,136)"/>
<rect x="460.8" y="314.8" width="2.30" height="21.40" fill="rgb(160,160,160)"/>
<rect x="466.9" y="314.8" width="2.00" height="21.40" fill="rgb(168,168,168)"/>
<rect x="472.1" y="314.8" width="1.30" height="21.40" fill="rgb(144,144,144)"/>
<rect x="473.4" y="314.8" width="1.00" height="21.40" fill="rgb(160,160,160)"/>
<rect x="474.4" y="314.8" width="1.20" height="21.40" fill="rgb(112,112,112)"/>
<rect x="478.9" y="314.8" width="1.30" height="21.40" fill="rgb(176,176,176)"/>
<rect x="484" y="314.8" width="2.00" height="21.40" fill="rgb(128,128,128)"/>
<rect x="487.9" y="314.8" width="1.90" height="21.40" fill="rgb(168,168,168)"/>
<rect x="491.8" y="314.8" width="1.60" height="21.40" fill="rgb(160,160,160)"/>
<rect x="496" y="314.8" width="1.60" height="21.40" fill="rgb(160,160,160)"/>
<rect x="503.4" y="314.8" width="1.60" height="21.40" fill="rgb(176,176,176)"/>
<rect x="505" y="314.8" width="3.20" height="21.40" fill="rgb(112,112,112)"/>
<rect x="508.2" y="314.8" width="1.60" height="21.40" fill="rgb(208,208,208)"/>
<rect x="511.5" y="314.8" width="1.60" height="21.40" fill="rgb(160,160,160)"/>
<defs><linearGradient id="cb390247" x1="0" x2="1" y1="0" y2="0"><stop offset="0.0000" stop-color="#cc3040"/><stop offset="0.0342" stop-color="#de4050"/><stop offset="0.2590" stop-color="#ec6c7c"/><stop offset="0.2744" stop-color="#f4aed8"/><stop offset="0.6419" stop-color="#f2bce2"/><stop offset="0.6538" stop-color="#e0dcf6"/><stop offset="0.8547" stop-color="#c8c4f2"/><stop offset="0.8667" stop-color="#8c8aee"/><stop offset="0.9504" stop-color="#5252de"/><stop offset="0.9624" stop-color="#2020ac"/><stop offset="1.0000" stop-color="#10108e"/></linearGradient></defs>
<rect x="396.7" y="336.2" width="117.00000000000006" height="5.600000000000023" fill="url(#cb390247)"/>
<polyline points="396.4,307.7 397.4,296 398.2,285.1 399.2,274.1 400.5,265.9 401.9,263.2 403.3,260.4 404.6,259.8 405.6,256.3 406.7,253.6 408.8,250.8 412.2,250.6 415.6,250.8 420.4,252.5 427.2,256.3 434.1,261.1 441,265.9 447.8,271.1 450,272.4 456.7,277.8 463.5,283.2 470.2,288.6 476.9,293.9 483.6,298.6 490.4,303.1 497.1,307.4 502.5,310.1 504.5,310.5 506.5,308.7 509.2,307.8 511.2,308.3 513.3,307.7" fill="none" stroke="#46de46" stroke-width="1.65" stroke-linejoin="round"/>
<text x="474.6" y="261.2" font-size="6.6" fill="#1a1a1a" stroke="#1a1a1a" stroke-width="0.22" font-weight="bold" textLength="29.3" lengthAdjust="spacingAndGlyphs">NES: 1.69</text>
<text x="474.6" y="268.9" font-size="6.6" fill="#1a1a1a" stroke="#1a1a1a" stroke-width="0.22" font-weight="bold" textLength="29.3" lengthAdjust="spacingAndGlyphs">FDR: 0.04</text>
<rect x="255.2" y="382.6" width="128.40000000000003" height="95.39999999999998" fill="#fff" stroke="#e4e4e4" stroke-width="0.7"/>
<rect x="255.2" y="382.6" width="128.40000000000003" height="0.8" fill="#cfcfcf"/>
<rect x="255.6" y="383.40000000000003" width="5.500000000000023" height="94.19999999999997" fill="#f3f3f3"/>
<line x1="261.3" y1="445.80" x2="381" y2="445.80" stroke="#eeeeee" stroke-width="0.6"/>
<text x="255.39999999999998" y="447.40" font-size="4.5" fill="#6e6e6e" stroke="#6e6e6e" stroke-width="0.15" textLength="4.7" lengthAdjust="spacingAndGlyphs">0.0</text>
<line x1="261.3" y1="437.14" x2="381" y2="437.14" stroke="#eeeeee" stroke-width="0.6"/>
<text x="255.39999999999998" y="438.74" font-size="4.5" fill="#6e6e6e" stroke="#6e6e6e" stroke-width="0.15" textLength="4.7" lengthAdjust="spacingAndGlyphs">0.1</text>
<line x1="261.3" y1="428.48" x2="381" y2="428.48" stroke="#eeeeee" stroke-width="0.6"/>
<text x="255.39999999999998" y="430.08" font-size="4.5" fill="#6e6e6e" stroke="#6e6e6e" stroke-width="0.15" textLength="4.7" lengthAdjust="spacingAndGlyphs">0.2</text>
<line x1="261.3" y1="419.82" x2="381" y2="419.82" stroke="#eeeeee" stroke-width="0.6"/>
<text x="255.39999999999998" y="421.42" font-size="4.5" fill="#6e6e6e" stroke="#6e6e6e" stroke-width="0.15" textLength="4.7" lengthAdjust="spacingAndGlyphs">0.3</text>
<line x1="261.3" y1="411.16" x2="381" y2="411.16" stroke="#eeeeee" stroke-width="0.6"/>
<text x="255.39999999999998" y="412.76" font-size="4.5" fill="#6e6e6e" stroke="#6e6e6e" stroke-width="0.15" textLength="4.7" lengthAdjust="spacingAndGlyphs">0.4</text>
<line x1="261.3" y1="402.50" x2="381" y2="402.50" stroke="#eeeeee" stroke-width="0.6"/>
<text x="255.39999999999998" y="404.10" font-size="4.5" fill="#6e6e6e" stroke="#6e6e6e" stroke-width="0.15" textLength="4.7" lengthAdjust="spacingAndGlyphs">0.5</text>
<line x1="261.3" y1="393.84" x2="381" y2="393.84" stroke="#eeeeee" stroke-width="0.6"/>
<text x="255.39999999999998" y="395.44" font-size="4.5" fill="#6e6e6e" stroke="#6e6e6e" stroke-width="0.15" textLength="4.7" lengthAdjust="spacingAndGlyphs">0.6</text>
<line x1="261.3" y1="385.18" x2="381" y2="385.18" stroke="#eeeeee" stroke-width="0.6"/>
<text x="255.39999999999998" y="386.78" font-size="4.5" fill="#6e6e6e" stroke="#6e6e6e" stroke-width="0.15" textLength="4.7" lengthAdjust="spacingAndGlyphs">0.7</text>
<line x1="261.30" y1="382.6" x2="261.30" y2="447.20" stroke="#f0f0f0" stroke-width="0.6"/>
<line x1="280.92" y1="382.6" x2="280.92" y2="447.20" stroke="#f0f0f0" stroke-width="0.6"/>
<line x1="300.53" y1="382.6" x2="300.53" y2="447.20" stroke="#f0f0f0" stroke-width="0.6"/>
<line x1="320.15" y1="382.6" x2="320.15" y2="447.20" stroke="#f0f0f0" stroke-width="0.6"/>
<line x1="339.77" y1="382.6" x2="339.77" y2="447.20" stroke="#f0f0f0" stroke-width="0.6"/>
<line x1="359.38" y1="382.6" x2="359.38" y2="447.20" stroke="#f0f0f0" stroke-width="0.6"/>
<line x1="261.3" y1="382.6" x2="261.3" y2="478" stroke="#d8d8d8" stroke-width="0.7"/>
<line x1="261.3" y1="445.8" x2="382" y2="445.8" stroke="#9a9a9a" stroke-width="0.8"/>
<line x1="261.3" y1="449.8" x2="383.6" y2="449.8" stroke="#dddddd" stroke-width="0.6"/>
<rect x="261.6" y="450.2" width="2.20" height="21.50" fill="rgb(16,16,16)"/>
<rect x="263.8" y="450.2" width="1.30" height="21.50" fill="rgb(200,200,200)"/>
<rect x="265.1" y="450.2" width="2.60" height="21.50" fill="rgb(80,80,80)"/>
<rect x="267.7" y="450.2" width="1.60" height="21.50" fill="rgb(232,232,232)"/>
<rect x="269.3" y="450.2" width="2.60" height="21.50" fill="rgb(192,192,192)"/>
<rect x="272.9" y="450.2" width="2.60" height="21.50" fill="rgb(144,144,144)"/>
<rect x="275.5" y="450.2" width="1.20" height="21.50" fill="rgb(160,160,160)"/>
<rect x="276.7" y="450.2" width="2.00" height="21.50" fill="rgb(56,56,56)"/>
<rect x="278.7" y="450.2" width="1.30" height="21.50" fill="rgb(192,192,192)"/>
<rect x="280" y="450.2" width="1.00" height="21.50" fill="rgb(128,128,128)"/>
<rect x="281" y="450.2" width="1.00" height="21.50" fill="rgb(208,208,208)"/>
<rect x="282" y="450.2" width="1.50" height="21.50" fill="rgb(48,48,48)"/>
<rect x="285.1" y="450.2" width="2.30" height="21.50" fill="rgb(144,144,144)"/>
<rect x="287.4" y="450.2" width="1.30" height="21.50" fill="rgb(160,160,160)"/>
<rect x="290" y="450.2" width="1.30" height="21.50" fill="rgb(128,128,128)"/>
<rect x="291.3" y="450.2" width="1.20" height="21.50" fill="rgb(200,200,200)"/>
<rect x="292.5" y="450.2" width="2.00" height="21.50" fill="rgb(56,56,56)"/>
<rect x="298.7" y="450.2" width="1.90" height="21.50" fill="rgb(176,176,176)"/>
<rect x="302.9" y="450.2" width="2.90" height="21.50" fill="rgb(184,184,184)"/>
<rect x="308" y="450.2" width="2.00" height="21.50" fill="rgb(176,176,176)"/>
<rect x="320.9" y="450.2" width="1.60" height="21.50" fill="rgb(144,144,144)"/>
<rect x="339.6" y="450.2" width="1.70" height="21.50" fill="rgb(128,128,128)"/>
<rect x="346.7" y="450.2" width="2.00" height="21.50" fill="rgb(160,160,160)"/>
<rect x="351.6" y="450.2" width="1.60" height="21.50" fill="rgb(128,128,128)"/>
<rect x="364.8" y="450.2" width="1.60" height="21.50" fill="rgb(112,112,112)"/>
<rect x="368.7" y="450.2" width="1.30" height="21.50" fill="rgb(184,184,184)"/>
<rect x="371.6" y="450.2" width="1.60" height="21.50" fill="rgb(88,88,88)"/>
<defs><linearGradient id="cb255382" x1="0" x2="1" y1="0" y2="0"><stop offset="0.0000" stop-color="#cc3040"/><stop offset="0.0340" stop-color="#de4050"/><stop offset="0.2710" stop-color="#ec6c7c"/><stop offset="0.2863" stop-color="#f4aed8"/><stop offset="0.6279" stop-color="#f2bce2"/><stop offset="0.6398" stop-color="#e0dcf6"/><stop offset="0.8496" stop-color="#c8c4f2"/><stop offset="0.8615" stop-color="#8c8aee"/><stop offset="0.9609" stop-color="#5252de"/><stop offset="0.9728" stop-color="#2020ac"/><stop offset="1.0000" stop-color="#10108e"/></linearGradient></defs>
<rect x="261.3" y="471.8" width="117.69999999999999" height="5.599999999999966" fill="url(#cb255382)"/>
<polyline points="261.4,446.4 262.1,434.8 262.8,425.2 263.5,417 264.8,412.9 266.2,407.4 267.6,401.9 269,401.9 270.3,397.8 272.4,395.8 274.4,392.3 277.2,390.3 279.2,387.5 281.3,386.6 283.3,385.8 285.4,386.6 287.5,386.8 292.2,389.6 299.1,393.7 305.9,398.5 312.8,403.3 315,404.4 321.7,409.8 328.5,415.2 335.2,420.6 341.9,426 348.6,430.7 355.4,435.4 362.1,440.1 366.1,441.4 370.2,442.8 372.9,441.4 374.9,443.2 378.3,445.5 379.6,445.5" fill="none" stroke="#46de46" stroke-width="1.65" stroke-linejoin="round"/>
<text x="339.7" y="397.5" font-size="6.6" fill="#1a1a1a" stroke="#1a1a1a" stroke-width="0.22" font-weight="bold" textLength="29.6" lengthAdjust="spacingAndGlyphs">NES: 1.73</text>
<text x="339.7" y="405.2" font-size="6.6" fill="#1a1a1a" stroke="#1a1a1a" stroke-width="0.22" font-weight="bold" textLength="29.6" lengthAdjust="spacingAndGlyphs">FDR: 0.04</text>
<rect x="389.6" y="382.6" width="128.89999999999998" height="95.39999999999998" fill="#fff" stroke="#e4e4e4" stroke-width="0.7"/>
<rect x="389.6" y="382.6" width="128.89999999999998" height="0.8" fill="#cfcfcf"/>
<rect x="390.0" y="383.40000000000003" width="6.499999999999966" height="94.19999999999997" fill="#f3f3f3"/>
<line x1="396.7" y1="443.70" x2="515.5" y2="443.70" stroke="#eeeeee" stroke-width="0.6"/>
<text x="389.8" y="445.30" font-size="4.5" fill="#6e6e6e" stroke="#6e6e6e" stroke-width="0.15" textLength="4.7" lengthAdjust="spacingAndGlyphs">0.0</text>
<line x1="396.7" y1="432.90" x2="515.5" y2="432.90" stroke="#eeeeee" stroke-width="0.6"/>
<text x="389.8" y="434.50" font-size="4.5" fill="#6e6e6e" stroke="#6e6e6e" stroke-width="0.15" textLength="4.7" lengthAdjust="spacingAndGlyphs">0.1</text>
<line x1="396.7" y1="422.10" x2="515.5" y2="422.10" stroke="#eeeeee" stroke-width="0.6"/>
<text x="389.8" y="423.70" font-size="4.5" fill="#6e6e6e" stroke="#6e6e6e" stroke-width="0.15" textLength="4.7" lengthAdjust="spacingAndGlyphs">0.2</text>
<line x1="396.7" y1="411.30" x2="515.5" y2="411.30" stroke="#eeeeee" stroke-width="0.6"/>
<text x="389.8" y="412.90" font-size="4.5" fill="#6e6e6e" stroke="#6e6e6e" stroke-width="0.15" textLength="4.7" lengthAdjust="spacingAndGlyphs">0.3</text>
<line x1="396.7" y1="400.50" x2="515.5" y2="400.50" stroke="#eeeeee" stroke-width="0.6"/>
<text x="389.8" y="402.10" font-size="4.5" fill="#6e6e6e" stroke="#6e6e6e" stroke-width="0.15" textLength="4.7" lengthAdjust="spacingAndGlyphs">0.4</text>
<line x1="396.7" y1="389.70" x2="515.5" y2="389.70" stroke="#eeeeee" stroke-width="0.6"/>
<text x="389.8" y="391.30" font-size="4.5" fill="#6e6e6e" stroke="#6e6e6e" stroke-width="0.15" textLength="4.7" lengthAdjust="spacingAndGlyphs">0.5</text>
<line x1="396.70" y1="382.6" x2="396.70" y2="447.20" stroke="#f0f0f0" stroke-width="0.6"/>
<line x1="416.17" y1="382.6" x2="416.17" y2="447.20" stroke="#f0f0f0" stroke-width="0.6"/>
<line x1="435.63" y1="382.6" x2="435.63" y2="447.20" stroke="#f0f0f0" stroke-width="0.6"/>
<line x1="455.10" y1="382.6" x2="455.10" y2="447.20" stroke="#f0f0f0" stroke-width="0.6"/>
<line x1="474.57" y1="382.6" x2="474.57" y2="447.20" stroke="#f0f0f0" stroke-width="0.6"/>
<line x1="494.03" y1="382.6" x2="494.03" y2="447.20" stroke="#f0f0f0" stroke-width="0.6"/>
<line x1="396.7" y1="382.6" x2="396.7" y2="478" stroke="#d8d8d8" stroke-width="0.7"/>
<line x1="396.7" y1="443.7" x2="516.5" y2="443.7" stroke="#9a9a9a" stroke-width="0.8"/>
<line x1="396.7" y1="449.8" x2="518.5" y2="449.8" stroke="#dddddd" stroke-width="0.6"/>
<rect x="398.2" y="450.2" width="2.60" height="21.80" fill="rgb(16,16,16)"/>
<rect x="404" y="450.2" width="2.00" height="21.80" fill="rgb(96,96,96)"/>
<rect x="406" y="450.2" width="1.90" height="21.80" fill="rgb(216,216,216)"/>
<rect x="409.8" y="450.2" width="2.00" height="21.80" fill="rgb(128,128,128)"/>
<rect x="415.6" y="450.2" width="1.70" height="21.80" fill="rgb(104,104,104)"/>
<rect x="417.3" y="450.2" width="2.50" height="21.80" fill="rgb(80,80,80)"/>
<rect x="421.1" y="450.2" width="1.60" height="21.80" fill="rgb(144,144,144)"/>
<rect x="422.7" y="450.2" width="1.70" height="21.80" fill="rgb(112,112,112)"/>
<rect x="424.4" y="450.2" width="1.20" height="21.80" fill="rgb(200,200,200)"/>
<rect x="425.6" y="450.2" width="1.20" height="21.80" fill="rgb(160,160,160)"/>
<rect x="430.8" y="450.2" width="1.60" height="21.80" fill="rgb(104,104,104)"/>
<rect x="434" y="450.2" width="1.30" height="21.80" fill="rgb(160,160,160)"/>
<rect x="435.3" y="450.2" width="1.30" height="21.80" fill="rgb(176,176,176)"/>
<rect x="438.2" y="450.2" width="2.00" height="21.80" fill="rgb(96,96,96)"/>
<rect x="446.9" y="450.2" width="2.00" height="21.80" fill="rgb(160,160,160)"/>
<rect x="465.6" y="450.2" width="1.70" height="21.80" fill="rgb(160,160,160)"/>
<rect x="472.1" y="450.2" width="1.30" height="21.80" fill="rgb(160,160,160)"/>
<rect x="473.4" y="450.2" width="1.30" height="21.80" fill="rgb(144,144,144)"/>
<rect x="481.1" y="450.2" width="1.00" height="21.80" fill="rgb(176,176,176)"/>
<rect x="482.1" y="450.2" width="1.30" height="21.80" fill="rgb(216,216,216)"/>
<rect x="483.4" y="450.2" width="3.60" height="21.80" fill="rgb(160,160,160)"/>
<rect x="487" y="450.2" width="1.50" height="21.80" fill="rgb(216,216,216)"/>
<rect x="488.5" y="450.2" width="2.00" height="21.80" fill="rgb(144,144,144)"/>
<rect x="493.4" y="450.2" width="1.30" height="21.80" fill="rgb(168,168,168)"/>
<rect x="494.7" y="450.2" width="1.90" height="21.80" fill="rgb(136,136,136)"/>
<rect x="498.2" y="450.2" width="1.60" height="21.80" fill="rgb(168,168,168)"/>
<rect x="499.8" y="450.2" width="2.00" height="21.80" fill="rgb(144,144,144)"/>
<rect x="501.8" y="450.2" width="1.90" height="21.80" fill="rgb(136,136,136)"/>
<rect x="505.6" y="450.2" width="1.70" height="21.80" fill="rgb(160,160,160)"/>
<rect x="507.3" y="450.2" width="1.90" height="21.80" fill="rgb(200,200,200)"/>
<rect x="509.2" y="450.2" width="1.30" height="21.80" fill="rgb(168,168,168)"/>
<defs><linearGradient id="cb389382" x1="0" x2="1" y1="0" y2="0"><stop offset="0.0000" stop-color="#cc3040"/><stop offset="0.0342" stop-color="#de4050"/><stop offset="0.2671" stop-color="#ec6c7c"/><stop offset="0.2825" stop-color="#f4aed8"/><stop offset="0.5796" stop-color="#f2bce2"/><stop offset="0.5916" stop-color="#e0dcf6"/><stop offset="0.8502" stop-color="#c8c4f2"/><stop offset="0.8622" stop-color="#8c8aee"/><stop offset="0.9649" stop-color="#5252de"/><stop offset="0.9769" stop-color="#2020ac"/><stop offset="1.0000" stop-color="#10108e"/></linearGradient></defs>
<rect x="396.7" y="472" width="116.80000000000001" height="5.399999999999977" fill="url(#cb389382)"/>
<polyline points="397,444.4 397.9,440.9 398.6,431.7 399.4,417.5 400.1,406.2 400.8,400.6 402.2,401.3 403.6,402.7 405,399.2 406.4,395.7 407.5,396.4 408.5,391.4 410,389.3 411.1,388.6 412.1,386.2 414.2,387.2 416.3,389 419.1,387.6 421.2,387 423.4,387.3 426.2,387.6 429.7,390.4 435.4,395 442.4,401.3 449.5,407.7 456.7,414.8 463.5,421.5 470.2,428.3 476.9,434.3 483.6,439 490.4,442.4 495.8,444.4 501.1,446 503.2,445.1 505.2,445.8 507.2,443.7 509.2,444.4 511.2,442 513.3,443.7" fill="none" stroke="#46de46" stroke-width="1.65" stroke-linejoin="round"/>
<text x="471.4" y="397.5" font-size="6.6" fill="#1a1a1a" stroke="#1a1a1a" stroke-width="0.22" font-weight="bold" textLength="29.1" lengthAdjust="spacingAndGlyphs">NES: 1.32</text>
<text x="471.4" y="405.2" font-size="6.6" fill="#1a1a1a" stroke="#1a1a1a" stroke-width="0.22" font-weight="bold" textLength="29.1" lengthAdjust="spacingAndGlyphs">FDR: 0.11</text>
<text x="286.9" y="239" font-size="10.6" fill="#111" stroke="#111" stroke-width="0.58" textLength="64.9" lengthAdjust="spacingAndGlyphs">Cell adhesion</text>
<text x="411.25" y="226.3" font-size="10.6" fill="#111" stroke="#111" stroke-width="0.58" textLength="91.75" lengthAdjust="spacingAndGlyphs">Extracellular matrix</text>
<text x="428.4" y="238.6" font-size="10.6" fill="#111" stroke="#111" stroke-width="0.58" textLength="57.9" lengthAdjust="spacingAndGlyphs">organization</text>
<text x="283.7" y="375.0" font-size="10.6" fill="#111" stroke="#111" stroke-width="0.58" textLength="78" lengthAdjust="spacingAndGlyphs">Integrin Pathway</text>
<text x="407" y="375.0" font-size="10.6" fill="#111" stroke="#111" stroke-width="0.58" textLength="100" lengthAdjust="spacingAndGlyphs">Endothelial migration</text>
<text x="238.5" y="311.6" font-size="10.7" fill="#111" stroke="#111" stroke-width="0.62" textLength="54.5" lengthAdjust="spacingAndGlyphs" transform="rotate(-90 238.5 311.6)">Enrichment</text>
<text x="250.6" y="309.55" font-size="10.7" fill="#111" stroke="#111" stroke-width="0.62" textLength="50.4" lengthAdjust="spacingAndGlyphs" transform="rotate(-90 250.6 309.55)">score (ES)</text>
<text x="238.5" y="446.9" font-size="10.7" fill="#111" stroke="#111" stroke-width="0.62" textLength="54.5" lengthAdjust="spacingAndGlyphs" transform="rotate(-90 238.5 446.9)">Enrichment</text>
<text x="250.6" y="444.84999999999997" font-size="10.7" fill="#111" stroke="#111" stroke-width="0.62" textLength="50.4" lengthAdjust="spacingAndGlyphs" transform="rotate(-90 250.6 444.84999999999997)">score (ES)</text>
<text x="262" y="485.7" font-size="8.5" fill="#d81e2c" stroke="#d81e2c" stroke-width="0.12" font-weight="bold" textLength="49.2" lengthAdjust="spacingAndGlyphs">RUNX1 pos.</text>
<text x="262" y="495.0" font-size="8.5" fill="#d81e2c" stroke="#d81e2c" stroke-width="0.12" font-weight="bold" textLength="41.7" lengthAdjust="spacingAndGlyphs">correlated</text>
<text x="329.5" y="485.7" font-size="8.5" fill="#1c1c90" stroke="#1c1c90" stroke-width="0.12" font-weight="bold" textLength="49.2" lengthAdjust="spacingAndGlyphs">RUNX1 neg.</text>
<text x="378.7" y="495.0" font-size="8.5" fill="#1c1c90" stroke="#1c1c90" stroke-width="0.12" font-weight="bold" text-anchor="end" textLength="41.9" lengthAdjust="spacingAndGlyphs">correlated</text>
<text x="396.7" y="485.7" font-size="8.5" fill="#d81e2c" stroke="#d81e2c" stroke-width="0.12" font-weight="bold" textLength="49.2" lengthAdjust="spacingAndGlyphs">RUNX1 pos.</text>
<text x="396.7" y="495.0" font-size="8.5" fill="#d81e2c" stroke="#d81e2c" stroke-width="0.12" font-weight="bold" textLength="41.7" lengthAdjust="spacingAndGlyphs">correlated</text>
<text x="464.2" y="485.7" font-size="8.5" fill="#1c1c90" stroke="#1c1c90" stroke-width="0.12" font-weight="bold" textLength="49.2" lengthAdjust="spacingAndGlyphs">RUNX1 neg.</text>
<text x="513.4" y="495.0" font-size="8.5" fill="#1c1c90" stroke="#1c1c90" stroke-width="0.12" font-weight="bold" text-anchor="end" textLength="41.9" lengthAdjust="spacingAndGlyphs">correlated</text>
</svg></body></html>
